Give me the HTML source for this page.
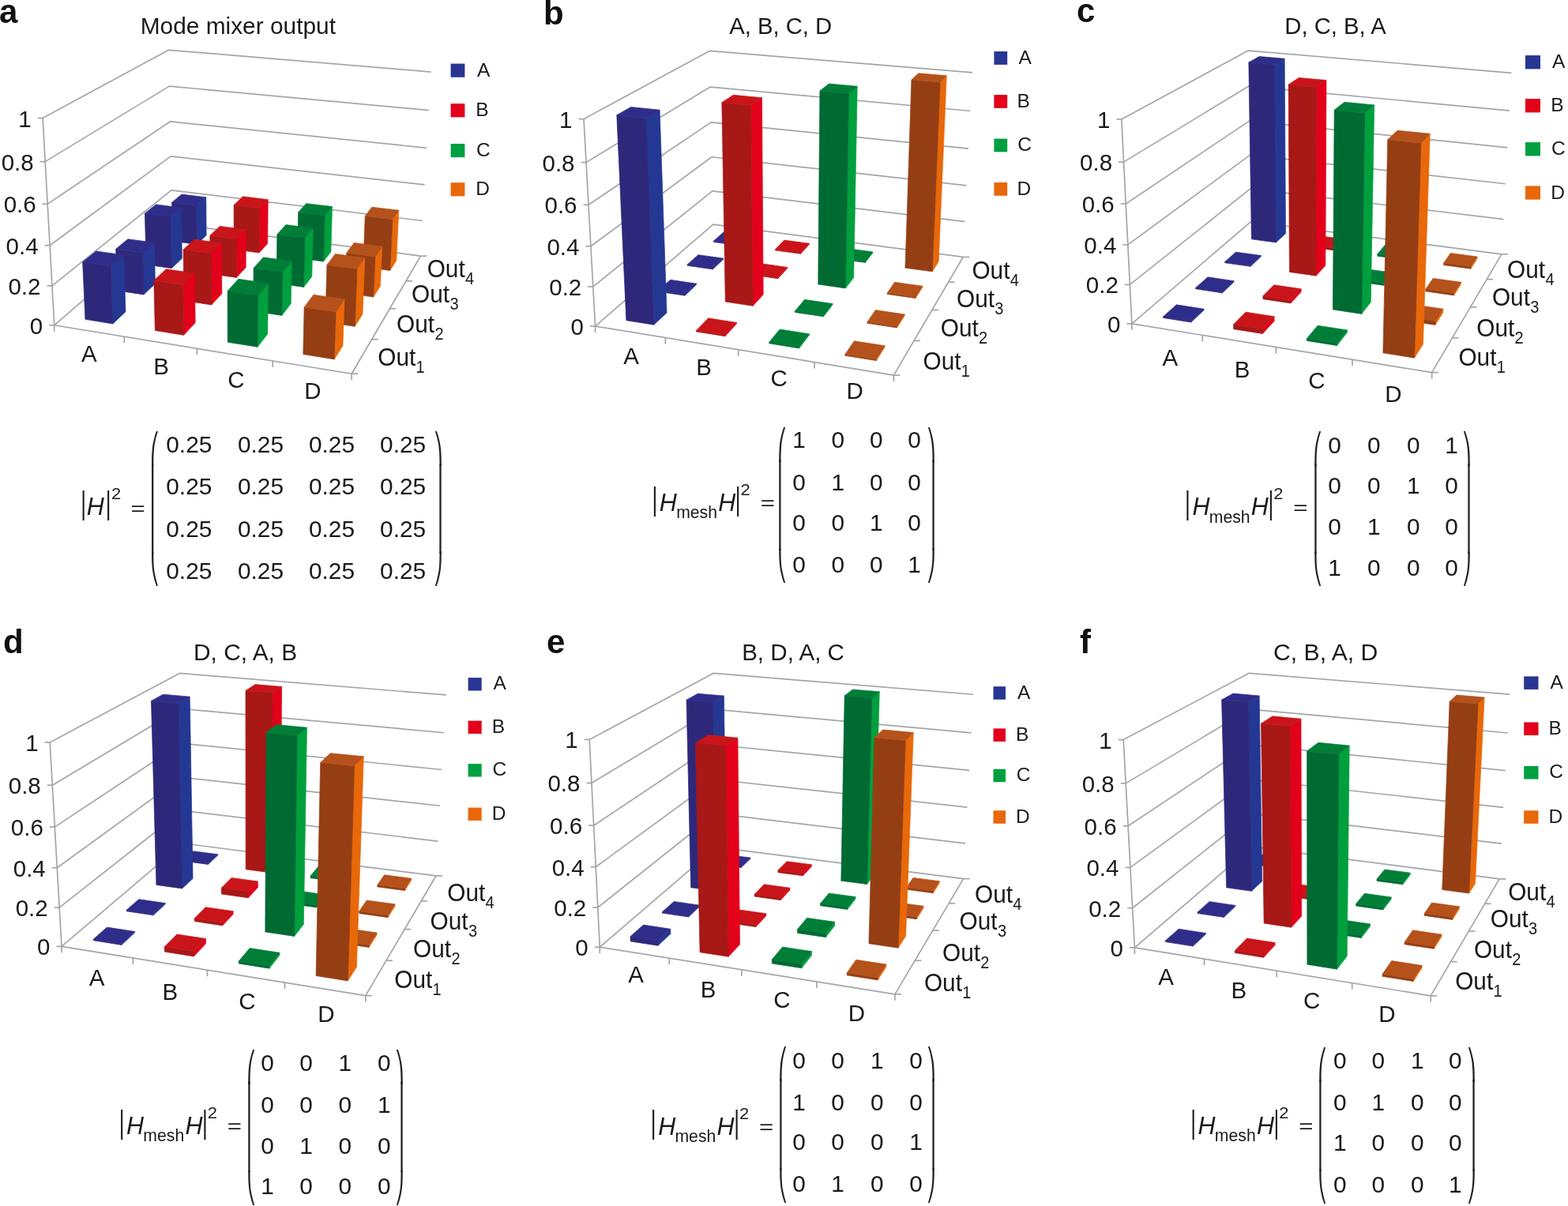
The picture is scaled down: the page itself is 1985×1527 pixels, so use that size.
<!DOCTYPE html>
<html><head><meta charset="utf-8"><title>Mode mixer figure</title><style>html,body{margin:0;padding:0;background:#fff}svg{display:block}</style></head><body>
<svg width="1985" height="1527" viewBox="0 0 1985 1527" font-family="'Liberation Sans', Arial, Helvetica, sans-serif" fill="#1a1a1a">
<rect width="1985" height="1527" fill="#fff"/>
<polyline points="68.71,411.78 217.67,283.09 532.49,324.15" fill="none" stroke="#a2a6a9" stroke-width="1.7" stroke-linejoin="round"/>
<polyline points="65.93,361.88 216.88,240.89 535.01,279.52" fill="none" stroke="#a2a6a9" stroke-width="1.7" stroke-linejoin="round"/>
<polyline points="63.09,310.76 216.08,197.85 537.58,233.92" fill="none" stroke="#a2a6a9" stroke-width="1.7" stroke-linejoin="round"/>
<polyline points="60.17,258.35 215.26,153.93 540.2,187.33" fill="none" stroke="#a2a6a9" stroke-width="1.7" stroke-linejoin="round"/>
<polyline points="57.18,204.62 214.42,109.11 542.88,139.71" fill="none" stroke="#a2a6a9" stroke-width="1.7" stroke-linejoin="round"/>
<polyline points="54.11,149.52 213.56,63.35 545.63,91.03" fill="none" stroke="#a2a6a9" stroke-width="1.7" stroke-linejoin="round"/>
<line x1="68.71" y1="411.78" x2="54.11" y2="149.52" stroke="#a2a6a9" stroke-width="1.7"/>
<polyline points="68.71,411.78 445.17,473.25 532.49,324.15" fill="none" stroke="#a2a6a9" stroke-width="1.7" stroke-linejoin="round"/>
<line x1="62.21" y1="411.78" x2="68.71" y2="411.78" stroke="#a2a6a9" stroke-width="1.7"/>
<line x1="59.43" y1="361.88" x2="65.93" y2="361.88" stroke="#a2a6a9" stroke-width="1.7"/>
<line x1="56.59" y1="310.76" x2="63.09" y2="310.76" stroke="#a2a6a9" stroke-width="1.7"/>
<line x1="53.67" y1="258.35" x2="60.17" y2="258.35" stroke="#a2a6a9" stroke-width="1.7"/>
<line x1="50.68" y1="204.62" x2="57.18" y2="204.62" stroke="#a2a6a9" stroke-width="1.7"/>
<line x1="47.61" y1="149.52" x2="54.11" y2="149.52" stroke="#a2a6a9" stroke-width="1.7"/>
<line x1="68.71" y1="411.78" x2="68.71" y2="419.78" stroke="#a2a6a9" stroke-width="1.7"/>
<line x1="445.17" y1="473.25" x2="453.17" y2="473.25" stroke="#a2a6a9" stroke-width="1.7"/>
<line x1="157.28" y1="426.24" x2="157.28" y2="434.24" stroke="#a2a6a9" stroke-width="1.7"/>
<line x1="470.64" y1="429.76" x2="478.64" y2="429.76" stroke="#a2a6a9" stroke-width="1.7"/>
<line x1="249.4" y1="441.28" x2="249.4" y2="449.28" stroke="#a2a6a9" stroke-width="1.7"/>
<line x1="493.43" y1="390.85" x2="501.43" y2="390.85" stroke="#a2a6a9" stroke-width="1.7"/>
<line x1="345.28" y1="456.94" x2="345.28" y2="464.94" stroke="#a2a6a9" stroke-width="1.7"/>
<line x1="513.94" y1="355.83" x2="521.94" y2="355.83" stroke="#a2a6a9" stroke-width="1.7"/>
<line x1="445.17" y1="473.25" x2="445.17" y2="481.25" stroke="#a2a6a9" stroke-width="1.7"/>
<line x1="532.49" y1="324.15" x2="540.49" y2="324.15" stroke="#a2a6a9" stroke-width="1.7"/>
<polygon points="249.2,309.44 261.16,298.12 260.76,249.78 248.64,260.32" fill="#243893" stroke="#243893" stroke-width="0.7"/>
<polygon points="218.4,305.27 249.2,309.44 248.64,260.32 217.49,256.43" fill="#2e287a" stroke="#2e287a" stroke-width="0.7"/>
<polygon points="217.49,256.43 248.64,260.32 260.76,249.78 230.1,246.03" fill="#2f2d8a" stroke="#2f2d8a" stroke-width="0.7"/>
<polygon points="328,320.09 338.7,308.38 339.26,252.7 328.42,263.5" fill="#e2001a" stroke="#e2001a" stroke-width="0.7"/>
<polygon points="296.16,315.78 328,320.09 328.42,263.5 296.15,259.52" fill="#a71816" stroke="#a71816" stroke-width="0.7"/>
<polygon points="296.15,259.52 328.42,263.5 339.26,252.7 307.52,248.87" fill="#c9151a" stroke="#c9151a" stroke-width="0.7"/>
<polygon points="409.49,331.1 418.83,318.99 420.51,261.61 411.07,272.77" fill="#009f3e" stroke="#009f3e" stroke-width="0.7"/>
<polygon points="376.56,326.65 409.49,331.1 411.07,272.77 377.67,268.66" fill="#006a33" stroke="#006a33" stroke-width="0.7"/>
<polygon points="377.67,268.66 411.07,272.77 420.51,261.61 387.68,257.65" fill="#007e38" stroke="#007e38" stroke-width="0.7"/>
<polygon points="217.23,339.67 230.38,327.23 229.36,262.98 215.98,274.34" fill="#243893" stroke="#243893" stroke-width="0.7"/>
<polygon points="185.16,335.1 217.23,339.67 215.98,274.34 183.42,270.16" fill="#2e287a" stroke="#2e287a" stroke-width="0.7"/>
<polygon points="183.42,270.16 215.98,274.34 229.36,262.98 197.34,258.95" fill="#2f2d8a" stroke="#2f2d8a" stroke-width="0.7"/>
<polygon points="493.82,342.5 501.7,329.97 504.83,266.25 496.89,277.71" fill="#e8680a" stroke="#e8680a" stroke-width="0.7"/>
<polygon points="459.74,337.9 493.82,342.5 496.89,277.71 462.26,273.49" fill="#953e14" stroke="#953e14" stroke-width="0.7"/>
<polygon points="462.26,273.49 496.89,277.71 504.83,266.25 470.81,262.19" fill="#b5511a" stroke="#b5511a" stroke-width="0.7"/>
<polygon points="299.38,351.39 311.16,338.5 311.33,290.66 299.41,302.73" fill="#e2001a" stroke="#e2001a" stroke-width="0.7"/>
<polygon points="266.18,346.65 299.38,351.39 299.41,302.73 265.82,298.28" fill="#a71816" stroke="#a71816" stroke-width="0.7"/>
<polygon points="265.82,298.28 299.41,302.73 311.33,290.66 278.31,286.38" fill="#c9151a" stroke="#c9151a" stroke-width="0.7"/>
<polygon points="384.49,363.52 394.79,350.17 396.23,288.94 385.81,301.23" fill="#009f3e" stroke="#009f3e" stroke-width="0.7"/>
<polygon points="350.08,358.62 384.49,363.52 385.81,301.23 350.88,296.7" fill="#006a33" stroke="#006a33" stroke-width="0.7"/>
<polygon points="350.88,296.7 385.81,301.23 396.23,288.94 361.93,284.59" fill="#007e38" stroke="#007e38" stroke-width="0.7"/>
<polygon points="181.97,373.02 196.5,359.28 195.24,307.26 180.51,320.09" fill="#243893" stroke="#243893" stroke-width="0.7"/>
<polygon points="148.52,367.97 181.97,373.02 180.51,320.09 146.64,315.37" fill="#2e287a" stroke="#2e287a" stroke-width="0.7"/>
<polygon points="146.64,315.37 180.51,320.09 195.24,307.26 161.96,302.72" fill="#2f2d8a" stroke="#2f2d8a" stroke-width="0.7"/>
<polygon points="472.7,376.1 481.41,362.26 483.65,312.01 474.88,324.98" fill="#e8680a" stroke="#e8680a" stroke-width="0.7"/>
<polygon points="437.03,371.02 472.7,376.1 474.88,324.98 438.76,320.2" fill="#953e14" stroke="#953e14" stroke-width="0.7"/>
<polygon points="438.76,320.2 474.88,324.98 483.65,312.01 448.19,307.42" fill="#b5511a" stroke="#b5511a" stroke-width="0.7"/>
<polygon points="267.77,385.96 280.81,371.71 280.56,307.78 267.32,320.9" fill="#e2001a" stroke="#e2001a" stroke-width="0.7"/>
<polygon points="233.07,380.73 267.77,385.96 267.32,320.9 232.08,316.07" fill="#a71816" stroke="#a71816" stroke-width="0.7"/>
<polygon points="232.08,316.07 267.32,320.9 280.56,307.78 245.95,303.14" fill="#c9151a" stroke="#c9151a" stroke-width="0.7"/>
<polygon points="356.82,399.4 368.23,384.6 369.17,330.72 357.62,344.55" fill="#009f3e" stroke="#009f3e" stroke-width="0.7"/>
<polygon points="320.8,393.96 356.82,399.4 357.62,344.55 321.12,339.46" fill="#006a33" stroke="#006a33" stroke-width="0.7"/>
<polygon points="321.12,339.46 357.62,344.55 369.17,330.72 333.34,325.84" fill="#007e38" stroke="#007e38" stroke-width="0.7"/>
<polygon points="142.91,409.97 159.03,394.72 156.63,322.94 140.16,336.88" fill="#243893" stroke="#243893" stroke-width="0.7"/>
<polygon points="107.96,404.37 142.91,409.97 140.16,336.88 104.62,331.75" fill="#2e287a" stroke="#2e287a" stroke-width="0.7"/>
<polygon points="104.62,331.75 140.16,336.88 156.63,322.94 121.72,318.02" fill="#2f2d8a" stroke="#2f2d8a" stroke-width="0.7"/>
<polygon points="449.29,413.35 458.96,397.98 461.78,326.51 452,340.58" fill="#e8680a" stroke="#e8680a" stroke-width="0.7"/>
<polygon points="411.88,407.71 449.29,413.35 452,340.58 413.91,335.4" fill="#953e14" stroke="#953e14" stroke-width="0.7"/>
<polygon points="413.91,335.4 452,340.58 461.78,326.51 424.42,321.55" fill="#b5511a" stroke="#b5511a" stroke-width="0.7"/>
<polygon points="232.68,424.35 247.17,408.5 246.41,345.96 231.68,360.66" fill="#e2001a" stroke="#e2001a" stroke-width="0.7"/>
<polygon points="196.35,418.53 232.68,424.35 231.68,360.66 194.8,355.26" fill="#a71816" stroke="#a71816" stroke-width="0.7"/>
<polygon points="194.8,355.26 231.68,360.66 246.41,345.96 210.22,340.79" fill="#c9151a" stroke="#c9151a" stroke-width="0.7"/>
<polygon points="326.03,439.31 338.75,422.82 339.41,358.75 326.5,374.04" fill="#009f3e" stroke="#009f3e" stroke-width="0.7"/>
<polygon points="288.25,433.26 326.03,439.31 326.5,374.04 288.11,368.42" fill="#006a33" stroke="#006a33" stroke-width="0.7"/>
<polygon points="288.11,368.42 326.5,374.04 339.41,358.75 301.77,353.37" fill="#007e38" stroke="#007e38" stroke-width="0.7"/>
<polygon points="423.19,454.88 433.98,437.71 435.97,378.85 425.06,394.9" fill="#e8680a" stroke="#e8680a" stroke-width="0.7"/>
<polygon points="383.86,448.58 423.19,454.88 425.06,394.9 385.13,389" fill="#953e14" stroke="#953e14" stroke-width="0.7"/>
<polygon points="385.13,389 425.06,394.9 435.97,378.85 396.85,373.21" fill="#b5511a" stroke="#b5511a" stroke-width="0.7"/>
<text x="54.21" y="422.78" font-size="29.5" text-anchor="end">0</text>
<text x="51.43" y="372.88" font-size="29.5" text-anchor="end">0.2</text>
<text x="48.59" y="321.76" font-size="29.5" text-anchor="end">0.4</text>
<text x="45.67" y="269.35" font-size="29.5" text-anchor="end">0.6</text>
<text x="42.68" y="215.62" font-size="29.5" text-anchor="end">0.8</text>
<text x="39.61" y="160.52" font-size="29.5" text-anchor="end">1</text>
<text transform="translate(112.95 458.2) scale(1 1.03)" font-size="29.5" text-anchor="middle">A</text>
<text transform="translate(204.1 473.8) scale(1 1.03)" font-size="29.5" text-anchor="middle">B</text>
<text transform="translate(298.8 491.3) scale(1 1.03)" font-size="29.5" text-anchor="middle">C</text>
<text transform="translate(395.9 505.3) scale(1 1.03)" font-size="29.5" text-anchor="middle">D</text>
<text transform="translate(478.3 462.9) scale(1 1.06)" font-size="29.8">Out<tspan font-size="20" dx="0.3" dy="8.5">1</tspan></text>
<text transform="translate(502.1 420.5) scale(1 1.06)" font-size="29.8">Out<tspan font-size="20" dx="0.3" dy="8.5">2</tspan></text>
<text transform="translate(521.1 383.2) scale(1 1.06)" font-size="29.8">Out<tspan font-size="20" dx="0.3" dy="8.5">3</tspan></text>
<text transform="translate(540.7 351.1) scale(1 1.06)" font-size="29.8">Out<tspan font-size="20" dx="0.3" dy="8.5">4</tspan></text>
<rect x="570.6" y="80.6" width="17.8" height="17.2" fill="#283593"/>
<text x="604.08" y="96.6" font-size="24.5">A</text>
<rect x="570.6" y="131.2" width="17.8" height="17.2" fill="#e2001a"/>
<text x="602.24" y="147.2" font-size="24.5">B</text>
<rect x="570.6" y="182" width="17.8" height="17.2" fill="#00a040"/>
<text x="602.97" y="198" font-size="24.5">C</text>
<rect x="570.6" y="231.2" width="17.8" height="17.2" fill="#e8680a"/>
<text x="602.24" y="247.2" font-size="24.5">D</text>
<text transform="translate(177.72 42.6) scale(1.03 1)" font-size="29">Mode mixer output</text>
<text x="-1" y="28.5" font-size="42" font-weight="bold" fill="#111">a</text>
<text transform="translate(239.3 572.9) scale(1.03 1)" font-size="29" text-anchor="middle">0.25</text>
<text transform="translate(330 572.9) scale(1.03 1)" font-size="29" text-anchor="middle">0.25</text>
<text transform="translate(420 572.9) scale(1.03 1)" font-size="29" text-anchor="middle">0.25</text>
<text transform="translate(510.1 572.9) scale(1.03 1)" font-size="29" text-anchor="middle">0.25</text>
<text transform="translate(239.3 625.8) scale(1.03 1)" font-size="29" text-anchor="middle">0.25</text>
<text transform="translate(330 625.8) scale(1.03 1)" font-size="29" text-anchor="middle">0.25</text>
<text transform="translate(420 625.8) scale(1.03 1)" font-size="29" text-anchor="middle">0.25</text>
<text transform="translate(510.1 625.8) scale(1.03 1)" font-size="29" text-anchor="middle">0.25</text>
<text transform="translate(239.3 680) scale(1.03 1)" font-size="29" text-anchor="middle">0.25</text>
<text transform="translate(330 680) scale(1.03 1)" font-size="29" text-anchor="middle">0.25</text>
<text transform="translate(420 680) scale(1.03 1)" font-size="29" text-anchor="middle">0.25</text>
<text transform="translate(510.1 680) scale(1.03 1)" font-size="29" text-anchor="middle">0.25</text>
<text transform="translate(239.3 732.9) scale(1.03 1)" font-size="29" text-anchor="middle">0.25</text>
<text transform="translate(330 732.9) scale(1.03 1)" font-size="29" text-anchor="middle">0.25</text>
<text transform="translate(420 732.9) scale(1.03 1)" font-size="29" text-anchor="middle">0.25</text>
<text transform="translate(510.1 732.9) scale(1.03 1)" font-size="29" text-anchor="middle">0.25</text>
<text transform="translate(189.96 581.34) scale(1 1.54)" font-size="24" font-family="'DejaVu Sans', sans-serif" fill="#222">⎛</text>
<text transform="translate(189.96 676.82) scale(1 3.96)" font-size="24" font-family="'DejaVu Sans', sans-serif" fill="#222">⎜</text>
<text transform="translate(189.96 732.73) scale(1 1.54)" font-size="24" font-family="'DejaVu Sans', sans-serif" fill="#222">⎝</text>
<text transform="translate(548.64 581.34) scale(1 1.54)" font-size="24" font-family="'DejaVu Sans', sans-serif" fill="#222">⎞</text>
<text transform="translate(548.64 676.82) scale(1 3.96)" font-size="24" font-family="'DejaVu Sans', sans-serif" fill="#222">⎟</text>
<text transform="translate(548.64 732.73) scale(1 1.54)" font-size="24" font-family="'DejaVu Sans', sans-serif" fill="#222">⎠</text>
<text transform="translate(102.25 650.91) scale(0.9 1.39)" font-size="29">|</text>
<text x="109.68" y="652.4" font-size="30.5" font-style="italic">H</text>
<text transform="translate(133.75 650.91) scale(0.9 1.39)" font-size="29">|</text>
<text transform="translate(141 631.7) scale(1.1 1)" font-size="20">2</text>
<text transform="translate(165.43 652.44) scale(1.08 0.84)" font-size="29">=</text>
<polyline points="753.53,413.04 902.8,284.17 1219.18,325.45" fill="none" stroke="#a2a6a9" stroke-width="1.7" stroke-linejoin="round"/>
<polyline points="750.76,362.96 901.92,241.88 1221.41,280.61" fill="none" stroke="#a2a6a9" stroke-width="1.7" stroke-linejoin="round"/>
<polyline points="747.92,311.73 901.03,198.78 1223.69,234.85" fill="none" stroke="#a2a6a9" stroke-width="1.7" stroke-linejoin="round"/>
<polyline points="745.01,259.3 900.11,154.86 1226.01,188.16" fill="none" stroke="#a2a6a9" stroke-width="1.7" stroke-linejoin="round"/>
<polyline points="742.03,205.63 899.18,110.1 1228.38,140.51" fill="none" stroke="#a2a6a9" stroke-width="1.7" stroke-linejoin="round"/>
<polyline points="738.99,150.67 898.24,64.46 1230.8,91.85" fill="none" stroke="#a2a6a9" stroke-width="1.7" stroke-linejoin="round"/>
<line x1="753.53" y1="413.04" x2="738.99" y2="150.67" stroke="#a2a6a9" stroke-width="1.7"/>
<polyline points="753.53,413.04 1131.41,475.07 1219.18,325.45" fill="none" stroke="#a2a6a9" stroke-width="1.7" stroke-linejoin="round"/>
<line x1="747.03" y1="413.04" x2="753.53" y2="413.04" stroke="#a2a6a9" stroke-width="1.7"/>
<line x1="744.26" y1="362.96" x2="750.76" y2="362.96" stroke="#a2a6a9" stroke-width="1.7"/>
<line x1="741.42" y1="311.73" x2="747.92" y2="311.73" stroke="#a2a6a9" stroke-width="1.7"/>
<line x1="738.51" y1="259.3" x2="745.01" y2="259.3" stroke="#a2a6a9" stroke-width="1.7"/>
<line x1="735.53" y1="205.63" x2="742.03" y2="205.63" stroke="#a2a6a9" stroke-width="1.7"/>
<line x1="732.49" y1="150.67" x2="738.99" y2="150.67" stroke="#a2a6a9" stroke-width="1.7"/>
<line x1="753.53" y1="413.04" x2="753.53" y2="421.04" stroke="#a2a6a9" stroke-width="1.7"/>
<line x1="1131.41" y1="475.07" x2="1139.41" y2="475.07" stroke="#a2a6a9" stroke-width="1.7"/>
<line x1="842.3" y1="427.61" x2="842.3" y2="435.61" stroke="#a2a6a9" stroke-width="1.7"/>
<line x1="1157" y1="431.44" x2="1165" y2="431.44" stroke="#a2a6a9" stroke-width="1.7"/>
<line x1="934.71" y1="442.78" x2="934.71" y2="450.78" stroke="#a2a6a9" stroke-width="1.7"/>
<line x1="1179.91" y1="392.4" x2="1187.91" y2="392.4" stroke="#a2a6a9" stroke-width="1.7"/>
<line x1="1031" y1="458.58" x2="1031" y2="466.58" stroke="#a2a6a9" stroke-width="1.7"/>
<line x1="1200.52" y1="357.26" x2="1208.52" y2="357.26" stroke="#a2a6a9" stroke-width="1.7"/>
<line x1="1131.41" y1="475.07" x2="1131.41" y2="483.07" stroke="#a2a6a9" stroke-width="1.7"/>
<line x1="1219.18" y1="325.45" x2="1227.18" y2="325.45" stroke="#a2a6a9" stroke-width="1.7"/>
<polygon points="934.44,310.59 946.45,299.24 946.43,297.96 934.42,309.28" fill="#243893" stroke="#243893" stroke-width="0.7"/>
<polygon points="903.54,306.41 934.44,310.59 934.42,309.28 903.51,305.11" fill="#2e287a" stroke="#2e287a" stroke-width="0.7"/>
<polygon points="903.51,305.11 934.42,309.28 946.43,297.96 916,293.93" fill="#2f2d8a" stroke="#2f2d8a" stroke-width="0.7"/>
<polygon points="1013.56,321.3 1024.3,309.56 1024.31,308.26 1013.56,319.97" fill="#e2001a" stroke="#e2001a" stroke-width="0.7"/>
<polygon points="981.59,316.97 1013.56,321.3 1013.56,319.97 981.58,315.65" fill="#a71816" stroke="#a71816" stroke-width="0.7"/>
<polygon points="981.58,315.65 1013.56,319.97 1024.31,308.26 992.84,304.1" fill="#c9151a" stroke="#c9151a" stroke-width="0.7"/>
<polygon points="1095.45,332.38 1104.84,320.24 1104.87,318.91 1095.48,331.04" fill="#009f3e" stroke="#009f3e" stroke-width="0.7"/>
<polygon points="1062.35,327.9 1095.45,332.38 1095.48,331.04 1062.37,326.57" fill="#006a33" stroke="#006a33" stroke-width="0.7"/>
<polygon points="1062.37,326.57 1095.48,331.04 1104.87,318.91 1072.31,314.61" fill="#007e38" stroke="#007e38" stroke-width="0.7"/>
<polygon points="902.38,340.89 915.57,328.42 915.55,327.08 902.35,339.53" fill="#243893" stroke="#243893" stroke-width="0.7"/>
<polygon points="870.21,336.29 902.38,340.89 902.35,339.53 870.17,334.94" fill="#2e287a" stroke="#2e287a" stroke-width="0.7"/>
<polygon points="870.17,334.94 902.35,339.53 915.55,327.08 883.89,322.67" fill="#2f2d8a" stroke="#2f2d8a" stroke-width="0.7"/>
<polygon points="984.84,352.67 996.66,339.76 996.66,338.4 984.84,351.29" fill="#e2001a" stroke="#e2001a" stroke-width="0.7"/>
<polygon points="951.5,347.91 984.84,352.67 984.84,351.29 951.49,346.54" fill="#a71816" stroke="#a71816" stroke-width="0.7"/>
<polygon points="951.49,346.54 984.84,351.29 996.66,338.4 963.87,333.82" fill="#c9151a" stroke="#c9151a" stroke-width="0.7"/>
<polygon points="1180.27,343.86 1188.19,331.28 1198.29,95.74 1190.16,104.14" fill="#e8680a" stroke="#e8680a" stroke-width="0.7"/>
<polygon points="1145.98,339.22 1180.27,343.86 1190.16,104.14 1153.96,101.04" fill="#953e14" stroke="#953e14" stroke-width="0.7"/>
<polygon points="1153.96,101.04 1190.16,104.14 1198.29,95.74 1162.77,92.77" fill="#b5511a" stroke="#b5511a" stroke-width="0.7"/>
<polygon points="867.04,374.28 881.6,360.52 881.56,359.13 866.99,372.86" fill="#243893" stroke="#243893" stroke-width="0.7"/>
<polygon points="833.49,369.2 867.04,374.28 866.99,372.86 833.44,367.79" fill="#2e287a" stroke="#2e287a" stroke-width="0.7"/>
<polygon points="833.44,367.79 866.99,372.86 881.56,359.13 848.57,354.26" fill="#2f2d8a" stroke="#2f2d8a" stroke-width="0.7"/>
<polygon points="1159.05,377.58 1167.79,363.68 1167.85,362.28 1159.1,376.15" fill="#e8680a" stroke="#e8680a" stroke-width="0.7"/>
<polygon points="1123.17,372.45 1159.05,377.58 1159.1,376.15 1123.21,371.03" fill="#953e14" stroke="#953e14" stroke-width="0.7"/>
<polygon points="1123.21,371.03 1159.1,376.15 1167.85,362.28 1132.61,357.37" fill="#b5511a" stroke="#b5511a" stroke-width="0.7"/>
<polygon points="1070.34,364.9 1080.68,351.5 1085.26,109.26 1074.44,118.23" fill="#009f3e" stroke="#009f3e" stroke-width="0.7"/>
<polygon points="1035.76,359.95 1070.34,364.9 1074.44,118.23 1037.93,114.92" fill="#006a33" stroke="#006a33" stroke-width="0.7"/>
<polygon points="1037.93,114.92 1074.44,118.23 1085.26,109.26 1049.42,106.09" fill="#007e38" stroke="#007e38" stroke-width="0.7"/>
<polygon points="1042.55,400.87 1054.01,386.03 1054.03,384.59 1042.57,399.4" fill="#009f3e" stroke="#009f3e" stroke-width="0.7"/>
<polygon points="1006.37,395.39 1042.55,400.87 1042.57,399.4 1006.37,393.93" fill="#006a33" stroke="#006a33" stroke-width="0.7"/>
<polygon points="1006.37,393.93 1042.57,399.4 1054.03,384.59 1018.5,379.34" fill="#007e38" stroke="#007e38" stroke-width="0.7"/>
<polygon points="953.12,387.32 966.2,373.04 964.49,123.7 950.62,133.31" fill="#e2001a" stroke="#e2001a" stroke-width="0.7"/>
<polygon points="918.3,382.05 953.12,387.32 950.62,133.31 913.82,129.76" fill="#a71816" stroke="#a71816" stroke-width="0.7"/>
<polygon points="913.82,129.76 950.62,133.31 964.49,123.7 928.37,120.31" fill="#c9151a" stroke="#c9151a" stroke-width="0.7"/>
<polygon points="1135.52,414.95 1145.23,399.52 1145.28,398.06 1135.57,413.46" fill="#e8680a" stroke="#e8680a" stroke-width="0.7"/>
<polygon points="1097.9,409.25 1135.52,414.95 1135.57,413.46 1097.93,407.77" fill="#953e14" stroke="#953e14" stroke-width="0.7"/>
<polygon points="1097.93,407.77 1135.57,413.46 1145.28,398.06 1108.36,392.61" fill="#b5511a" stroke="#b5511a" stroke-width="0.7"/>
<polygon points="917.92,425.78 932.45,409.9 932.43,408.42 917.89,424.28" fill="#e2001a" stroke="#e2001a" stroke-width="0.7"/>
<polygon points="881.47,419.91 917.92,425.78 917.89,424.28 881.43,418.42" fill="#a71816" stroke="#a71816" stroke-width="0.7"/>
<polygon points="881.43,418.42 917.89,424.28 932.43,408.42 896.64,402.81" fill="#c9151a" stroke="#c9151a" stroke-width="0.7"/>
<polygon points="827.88,411.28 844.04,396.02 835.14,139.17 817.81,149.48" fill="#243893" stroke="#243893" stroke-width="0.7"/>
<polygon points="792.85,405.64 827.88,411.28 817.81,149.48 780.79,145.67" fill="#2e287a" stroke="#2e287a" stroke-width="0.7"/>
<polygon points="780.79,145.67 817.81,149.48 835.14,139.17 798.8,135.53" fill="#2f2d8a" stroke="#2f2d8a" stroke-width="0.7"/>
<polygon points="1011.65,440.88 1024.42,424.35 1024.43,422.84 1011.65,439.34" fill="#009f3e" stroke="#009f3e" stroke-width="0.7"/>
<polygon points="973.7,434.77 1011.65,440.88 1011.65,439.34 973.69,433.24" fill="#006a33" stroke="#006a33" stroke-width="0.7"/>
<polygon points="973.69,433.24 1011.65,439.34 1024.43,422.84 987.19,417" fill="#007e38" stroke="#007e38" stroke-width="0.7"/>
<polygon points="1109.3,456.6 1120.14,439.38 1120.19,437.85 1109.34,455.04" fill="#e8680a" stroke="#e8680a" stroke-width="0.7"/>
<polygon points="1069.75,450.23 1109.3,456.6 1109.34,455.04 1069.78,448.69" fill="#953e14" stroke="#953e14" stroke-width="0.7"/>
<polygon points="1069.78,448.69 1109.34,455.04 1120.19,437.85 1081.42,431.77" fill="#b5511a" stroke="#b5511a" stroke-width="0.7"/>
<text x="739.03" y="424.04" font-size="29.5" text-anchor="end">0</text>
<text x="736.26" y="373.96" font-size="29.5" text-anchor="end">0.2</text>
<text x="733.42" y="322.73" font-size="29.5" text-anchor="end">0.4</text>
<text x="730.51" y="270.3" font-size="29.5" text-anchor="end">0.6</text>
<text x="727.53" y="216.63" font-size="29.5" text-anchor="end">0.8</text>
<text x="724.49" y="161.67" font-size="29.5" text-anchor="end">1</text>
<text transform="translate(799.2 460.5) scale(1 1.03)" font-size="29.5" text-anchor="middle">A</text>
<text transform="translate(891.1 475.4) scale(1 1.03)" font-size="29.5" text-anchor="middle">B</text>
<text transform="translate(986.2 488.8) scale(1 1.03)" font-size="29.5" text-anchor="middle">C</text>
<text transform="translate(1082.1 505.3) scale(1 1.03)" font-size="29.5" text-anchor="middle">D</text>
<text transform="translate(1168.5 467.8) scale(1 1.06)" font-size="29.8">Out<tspan font-size="20" dx="0.3" dy="8.5">1</tspan></text>
<text transform="translate(1190.8 426) scale(1 1.06)" font-size="29.8">Out<tspan font-size="20" dx="0.3" dy="8.5">2</tspan></text>
<text transform="translate(1211 389.3) scale(1 1.06)" font-size="29.8">Out<tspan font-size="20" dx="0.3" dy="8.5">3</tspan></text>
<text transform="translate(1230.4 352.5) scale(1 1.06)" font-size="29.8">Out<tspan font-size="20" dx="0.3" dy="8.5">4</tspan></text>
<rect x="1258.4" y="65.1" width="16.8" height="16.8" fill="#283593"/>
<text x="1289.38" y="80.7" font-size="24.5">A</text>
<rect x="1258.4" y="120.1" width="16.8" height="16.8" fill="#e2001a"/>
<text x="1287.54" y="135.7" font-size="24.5">B</text>
<rect x="1258.4" y="175.6" width="16.8" height="16.8" fill="#00a040"/>
<text x="1288.28" y="191.2" font-size="24.5">C</text>
<rect x="1258.4" y="231" width="16.8" height="16.8" fill="#e8680a"/>
<text x="1287.54" y="246.6" font-size="24.5">D</text>
<text transform="translate(923.15 43) scale(1.01 1)" font-size="29">A, B, C, D</text>
<text x="688.1" y="30.5" font-size="42" font-weight="bold" fill="#111">b</text>
<text transform="translate(1011.5 567.4) scale(1.03 1)" font-size="29" text-anchor="middle">1</text>
<text transform="translate(1060.9 567.4) scale(1.03 1)" font-size="29" text-anchor="middle">0</text>
<text transform="translate(1109.2 567.4) scale(1.03 1)" font-size="29" text-anchor="middle">0</text>
<text transform="translate(1157.6 567.4) scale(1.03 1)" font-size="29" text-anchor="middle">0</text>
<text transform="translate(1011.5 620.5) scale(1.03 1)" font-size="29" text-anchor="middle">0</text>
<text transform="translate(1060.9 620.5) scale(1.03 1)" font-size="29" text-anchor="middle">1</text>
<text transform="translate(1109.2 620.5) scale(1.03 1)" font-size="29" text-anchor="middle">0</text>
<text transform="translate(1157.6 620.5) scale(1.03 1)" font-size="29" text-anchor="middle">0</text>
<text transform="translate(1011.5 672.2) scale(1.03 1)" font-size="29" text-anchor="middle">0</text>
<text transform="translate(1060.9 672.2) scale(1.03 1)" font-size="29" text-anchor="middle">0</text>
<text transform="translate(1109.2 672.2) scale(1.03 1)" font-size="29" text-anchor="middle">1</text>
<text transform="translate(1157.6 672.2) scale(1.03 1)" font-size="29" text-anchor="middle">0</text>
<text transform="translate(1011.5 725) scale(1.03 1)" font-size="29" text-anchor="middle">0</text>
<text transform="translate(1060.9 725) scale(1.03 1)" font-size="29" text-anchor="middle">0</text>
<text transform="translate(1109.2 725) scale(1.03 1)" font-size="29" text-anchor="middle">0</text>
<text transform="translate(1157.6 725) scale(1.03 1)" font-size="29" text-anchor="middle">1</text>
<text transform="translate(984.26 576.04) scale(1 1.54)" font-size="24" font-family="'DejaVu Sans', sans-serif" fill="#222">⎛</text>
<text transform="translate(984.26 672.55) scale(1 4.01)" font-size="24" font-family="'DejaVu Sans', sans-serif" fill="#222">⎜</text>
<text transform="translate(984.26 728.73) scale(1 1.54)" font-size="24" font-family="'DejaVu Sans', sans-serif" fill="#222">⎝</text>
<text transform="translate(1172.84 576.04) scale(1 1.54)" font-size="24" font-family="'DejaVu Sans', sans-serif" fill="#222">⎞</text>
<text transform="translate(1172.84 672.55) scale(1 4.01)" font-size="24" font-family="'DejaVu Sans', sans-serif" fill="#222">⎟</text>
<text transform="translate(1172.84 728.73) scale(1 1.54)" font-size="24" font-family="'DejaVu Sans', sans-serif" fill="#222">⎠</text>
<text transform="translate(825.45 645.63) scale(0.9 1.39)" font-size="29">|</text>
<text x="834.84" y="647" font-size="30.5" font-style="italic">H</text>
<text x="856.17" y="656.1" font-size="21.2">mesh</text>
<text x="909.18" y="647" font-size="30.5" font-style="italic">H</text>
<text transform="translate(930.85 645.63) scale(0.9 1.39)" font-size="29">|</text>
<text transform="translate(937.6 627) scale(1.1 1)" font-size="20">2</text>
<text transform="translate(962.63 645.34) scale(1.08 0.84)" font-size="29">=</text>
<polyline points="1432.87,409.87 1583.69,280.53 1900.89,321.81" fill="none" stroke="#a2a6a9" stroke-width="1.7" stroke-linejoin="round"/>
<polyline points="1430.38,360.41 1583.03,238.83 1903.29,277.71" fill="none" stroke="#a2a6a9" stroke-width="1.7" stroke-linejoin="round"/>
<polyline points="1427.83,309.82 1582.35,196.37 1905.74,232.73" fill="none" stroke="#a2a6a9" stroke-width="1.7" stroke-linejoin="round"/>
<polyline points="1425.22,258.08 1581.67,153.11 1908.23,186.86" fill="none" stroke="#a2a6a9" stroke-width="1.7" stroke-linejoin="round"/>
<polyline points="1422.55,205.14 1580.97,109.03 1910.78,140.06" fill="none" stroke="#a2a6a9" stroke-width="1.7" stroke-linejoin="round"/>
<polyline points="1419.81,150.96 1580.26,64.12 1913.37,92.3" fill="none" stroke="#a2a6a9" stroke-width="1.7" stroke-linejoin="round"/>
<line x1="1432.87" y1="409.87" x2="1419.81" y2="150.96" stroke="#a2a6a9" stroke-width="1.7"/>
<polyline points="1432.87,409.87 1812.69,471.63 1900.89,321.81" fill="none" stroke="#a2a6a9" stroke-width="1.7" stroke-linejoin="round"/>
<line x1="1426.37" y1="409.87" x2="1432.87" y2="409.87" stroke="#a2a6a9" stroke-width="1.7"/>
<line x1="1423.88" y1="360.41" x2="1430.38" y2="360.41" stroke="#a2a6a9" stroke-width="1.7"/>
<line x1="1421.33" y1="309.82" x2="1427.83" y2="309.82" stroke="#a2a6a9" stroke-width="1.7"/>
<line x1="1418.72" y1="258.08" x2="1425.22" y2="258.08" stroke="#a2a6a9" stroke-width="1.7"/>
<line x1="1416.05" y1="205.14" x2="1422.55" y2="205.14" stroke="#a2a6a9" stroke-width="1.7"/>
<line x1="1413.31" y1="150.96" x2="1419.81" y2="150.96" stroke="#a2a6a9" stroke-width="1.7"/>
<line x1="1432.87" y1="409.87" x2="1432.87" y2="417.87" stroke="#a2a6a9" stroke-width="1.7"/>
<line x1="1812.69" y1="471.63" x2="1820.69" y2="471.63" stroke="#a2a6a9" stroke-width="1.7"/>
<line x1="1522.28" y1="424.41" x2="1522.28" y2="432.41" stroke="#a2a6a9" stroke-width="1.7"/>
<line x1="1838.43" y1="427.9" x2="1846.43" y2="427.9" stroke="#a2a6a9" stroke-width="1.7"/>
<line x1="1615.24" y1="439.52" x2="1615.24" y2="447.52" stroke="#a2a6a9" stroke-width="1.7"/>
<line x1="1861.46" y1="388.79" x2="1869.46" y2="388.79" stroke="#a2a6a9" stroke-width="1.7"/>
<line x1="1711.96" y1="455.25" x2="1711.96" y2="463.25" stroke="#a2a6a9" stroke-width="1.7"/>
<line x1="1882.16" y1="353.62" x2="1890.16" y2="353.62" stroke="#a2a6a9" stroke-width="1.7"/>
<line x1="1812.69" y1="471.63" x2="1812.69" y2="479.63" stroke="#a2a6a9" stroke-width="1.7"/>
<line x1="1900.89" y1="321.81" x2="1908.89" y2="321.81" stroke="#a2a6a9" stroke-width="1.7"/>
<polygon points="1694.84,317.71 1705.66,305.95 1705.69,303.39 1694.87,315.1" fill="#e2001a" stroke="#e2001a" stroke-width="0.7"/>
<polygon points="1662.75,313.38 1694.84,317.71 1694.87,315.1 1662.76,310.78" fill="#a71816" stroke="#a71816" stroke-width="0.7"/>
<polygon points="1662.76,310.78 1694.87,315.1 1705.69,303.39 1674.1,299.23" fill="#c9151a" stroke="#c9151a" stroke-width="0.7"/>
<polygon points="1615.41,307 1627.51,295.63 1626.13,74.27 1613.4,81.85" fill="#243893" stroke="#243893" stroke-width="0.7"/>
<polygon points="1584.35,302.81 1615.41,307 1613.4,81.85 1580.82,79" fill="#2e287a" stroke="#2e287a" stroke-width="0.7"/>
<polygon points="1580.82,79 1613.4,81.85 1626.13,74.27 1594.09,71.52" fill="#2f2d8a" stroke="#2f2d8a" stroke-width="0.7"/>
<polygon points="1776.97,328.78 1786.4,316.62 1786.48,314.02 1777.04,326.13" fill="#009f3e" stroke="#009f3e" stroke-width="0.7"/>
<polygon points="1743.79,324.31 1776.97,328.78 1777.04,326.13 1743.84,321.67" fill="#006a33" stroke="#006a33" stroke-width="0.7"/>
<polygon points="1743.84,321.67 1777.04,326.13 1786.48,314.02 1753.84,309.72" fill="#007e38" stroke="#007e38" stroke-width="0.7"/>
<polygon points="1583.07,337.37 1596.38,324.87 1596.36,323.55 1583.05,336.03" fill="#243893" stroke="#243893" stroke-width="0.7"/>
<polygon points="1550.72,332.77 1583.07,337.37 1583.05,336.03 1550.69,331.43" fill="#2e287a" stroke="#2e287a" stroke-width="0.7"/>
<polygon points="1550.69,331.43 1583.05,336.03 1596.36,323.55 1564.53,319.13" fill="#2f2d8a" stroke="#2f2d8a" stroke-width="0.7"/>
<polygon points="1861.92,340.24 1869.87,327.65 1870,325.01 1862.04,337.55" fill="#e8680a" stroke="#e8680a" stroke-width="0.7"/>
<polygon points="1827.59,335.61 1861.92,340.24 1862.04,337.55 1827.69,332.93" fill="#953e14" stroke="#953e14" stroke-width="0.7"/>
<polygon points="1827.69,332.93 1862.04,337.55 1870,325.01 1836.25,320.57" fill="#b5511a" stroke="#b5511a" stroke-width="0.7"/>
<polygon points="1751.7,361.34 1762.11,347.93 1762.18,345.21 1751.76,358.58" fill="#009f3e" stroke="#009f3e" stroke-width="0.7"/>
<polygon points="1717.02,356.41 1751.7,361.34 1751.76,358.58 1717.06,353.66" fill="#006a33" stroke="#006a33" stroke-width="0.7"/>
<polygon points="1717.06,353.66 1751.76,358.58 1762.18,345.21 1728.09,340.49" fill="#007e38" stroke="#007e38" stroke-width="0.7"/>
<polygon points="1665.91,349.14 1677.83,336.2 1678.98,101.56 1666.45,110.25" fill="#e2001a" stroke="#e2001a" stroke-width="0.7"/>
<polygon points="1632.43,344.38 1665.91,349.14 1666.45,110.25 1631.19,106.98" fill="#a71816" stroke="#a71816" stroke-width="0.7"/>
<polygon points="1631.19,106.98 1666.45,110.25 1678.98,101.56 1644.35,98.42" fill="#c9151a" stroke="#c9151a" stroke-width="0.7"/>
<polygon points="1547.39,370.88 1562.09,357.07 1562.06,355.69 1547.35,369.48" fill="#243893" stroke="#243893" stroke-width="0.7"/>
<polygon points="1513.64,365.8 1547.39,370.88 1547.35,369.48 1513.59,364.41" fill="#2e287a" stroke="#2e287a" stroke-width="0.7"/>
<polygon points="1513.59,364.41 1547.35,369.48 1562.06,355.69 1528.88,350.82" fill="#2f2d8a" stroke="#2f2d8a" stroke-width="0.7"/>
<polygon points="1840.6,373.98 1849.38,360.07 1849.5,357.31 1840.71,371.17" fill="#e8680a" stroke="#e8680a" stroke-width="0.7"/>
<polygon points="1804.65,368.87 1840.6,373.98 1840.71,371.17 1804.75,366.08" fill="#953e14" stroke="#953e14" stroke-width="0.7"/>
<polygon points="1804.75,366.08 1840.71,371.17 1849.5,357.31 1814.2,352.42" fill="#b5511a" stroke="#b5511a" stroke-width="0.7"/>
<polygon points="1633.94,383.89 1647.12,369.56 1647.12,365.83 1633.92,380.1" fill="#e2001a" stroke="#e2001a" stroke-width="0.7"/>
<polygon points="1598.94,378.63 1633.94,383.89 1633.92,380.1 1598.89,374.86" fill="#a71816" stroke="#a71816" stroke-width="0.7"/>
<polygon points="1598.89,374.86 1633.92,380.1 1647.12,365.83 1612.71,360.8" fill="#c9151a" stroke="#c9151a" stroke-width="0.7"/>
<polygon points="1507.82,408.04 1524.15,392.7 1524.11,391.26 1507.77,406.57" fill="#243893" stroke="#243893" stroke-width="0.7"/>
<polygon points="1472.54,402.41 1507.82,408.04 1507.77,406.57 1472.48,400.95" fill="#2e287a" stroke="#2e287a" stroke-width="0.7"/>
<polygon points="1472.48,400.95 1507.77,406.57 1524.11,391.26 1489.45,385.87" fill="#2f2d8a" stroke="#2f2d8a" stroke-width="0.7"/>
<polygon points="1816.94,411.4 1826.71,395.95 1826.89,391.15 1817.12,406.51" fill="#e8680a" stroke="#e8680a" stroke-width="0.7"/>
<polygon points="1779.23,405.73 1816.94,411.4 1817.12,406.51 1779.37,400.87" fill="#953e14" stroke="#953e14" stroke-width="0.7"/>
<polygon points="1779.37,400.87 1817.12,406.51 1826.89,391.15 1789.87,385.74" fill="#b5511a" stroke="#b5511a" stroke-width="0.7"/>
<polygon points="1723.73,397.39 1735.27,382.52 1739.73,132.93 1727.63,142.99" fill="#009f3e" stroke="#009f3e" stroke-width="0.7"/>
<polygon points="1687.41,391.93 1723.73,397.39 1727.63,142.99 1689.21,139.22" fill="#006a33" stroke="#006a33" stroke-width="0.7"/>
<polygon points="1689.21,139.22 1727.63,142.99 1739.73,132.93 1702.07,129.31" fill="#007e38" stroke="#007e38" stroke-width="0.7"/>
<polygon points="1598.41,422.49 1613.08,406.55 1613.03,400.7 1598.33,416.54" fill="#e2001a" stroke="#e2001a" stroke-width="0.7"/>
<polygon points="1561.75,416.65 1598.41,422.49 1598.33,416.54 1561.63,410.73" fill="#a71816" stroke="#a71816" stroke-width="0.7"/>
<polygon points="1561.63,410.73 1598.33,416.54 1613.03,400.7 1577.01,395.13" fill="#c9151a" stroke="#c9151a" stroke-width="0.7"/>
<polygon points="1692.58,437.52 1705.45,420.94 1705.49,417.97 1692.61,434.5" fill="#009f3e" stroke="#009f3e" stroke-width="0.7"/>
<polygon points="1654.47,431.44 1692.58,437.52 1692.61,434.5 1654.47,428.44" fill="#006a33" stroke="#006a33" stroke-width="0.7"/>
<polygon points="1654.47,428.44 1692.61,434.5 1705.49,417.97 1668.09,412.16" fill="#007e38" stroke="#007e38" stroke-width="0.7"/>
<polygon points="1790.56,453.16 1801.47,435.89 1810.31,169.36 1798.93,181.16" fill="#e8680a" stroke="#e8680a" stroke-width="0.7"/>
<polygon points="1750.9,446.83 1790.56,453.16 1798.93,181.16 1756.76,176.75" fill="#953e14" stroke="#953e14" stroke-width="0.7"/>
<polygon points="1756.76,176.75 1798.93,181.16 1810.31,169.36 1769.04,165.16" fill="#b5511a" stroke="#b5511a" stroke-width="0.7"/>
<text x="1418.37" y="420.87" font-size="29.5" text-anchor="end">0</text>
<text x="1415.88" y="371.41" font-size="29.5" text-anchor="end">0.2</text>
<text x="1413.33" y="320.82" font-size="29.5" text-anchor="end">0.4</text>
<text x="1410.72" y="269.08" font-size="29.5" text-anchor="end">0.6</text>
<text x="1408.05" y="216.14" font-size="29.5" text-anchor="end">0.8</text>
<text x="1405.31" y="161.96" font-size="29.5" text-anchor="end">1</text>
<text transform="translate(1481.4 463.4) scale(1 1.03)" font-size="29.5" text-anchor="middle">A</text>
<text transform="translate(1572.5 477.9) scale(1 1.03)" font-size="29.5" text-anchor="middle">B</text>
<text transform="translate(1666.8 492) scale(1 1.03)" font-size="29.5" text-anchor="middle">C</text>
<text transform="translate(1763.9 508.5) scale(1 1.03)" font-size="29.5" text-anchor="middle">D</text>
<text transform="translate(1846.4 462.5) scale(1 1.06)" font-size="29.8">Out<tspan font-size="20" dx="0.3" dy="8.5">1</tspan></text>
<text transform="translate(1869.3 425.9) scale(1 1.06)" font-size="29.8">Out<tspan font-size="20" dx="0.3" dy="8.5">2</tspan></text>
<text transform="translate(1888.9 386.6) scale(1 1.06)" font-size="29.8">Out<tspan font-size="20" dx="0.3" dy="8.5">3</tspan></text>
<text transform="translate(1908.1 351.9) scale(1 1.06)" font-size="29.8">Out<tspan font-size="20" dx="0.3" dy="8.5">4</tspan></text>
<rect x="1931" y="70.1" width="19" height="17.3" fill="#283593"/>
<text x="1964.98" y="86.2" font-size="24.5">A</text>
<rect x="1931" y="125.1" width="19" height="17.3" fill="#e2001a"/>
<text x="1963.14" y="141.2" font-size="24.5">B</text>
<rect x="1931" y="180.1" width="19" height="17.3" fill="#00a040"/>
<text x="1963.88" y="196.2" font-size="24.5">C</text>
<rect x="1931" y="235.4" width="19" height="17.3" fill="#e8680a"/>
<text x="1963.14" y="251.5" font-size="24.5">D</text>
<text transform="translate(1626.25 43) scale(1.01 1)" font-size="29">D, C, B, A</text>
<text x="1363.1" y="28.2" font-size="42" font-weight="bold" fill="#111">c</text>
<text transform="translate(1689.5 573.7) scale(1.03 1)" font-size="29" text-anchor="middle">0</text>
<text transform="translate(1739.3 573.7) scale(1.03 1)" font-size="29" text-anchor="middle">0</text>
<text transform="translate(1789.2 573.7) scale(1.03 1)" font-size="29" text-anchor="middle">0</text>
<text transform="translate(1837.6 573.7) scale(1.03 1)" font-size="29" text-anchor="middle">1</text>
<text transform="translate(1689.5 624.8) scale(1.03 1)" font-size="29" text-anchor="middle">0</text>
<text transform="translate(1739.3 624.8) scale(1.03 1)" font-size="29" text-anchor="middle">0</text>
<text transform="translate(1789.2 624.8) scale(1.03 1)" font-size="29" text-anchor="middle">1</text>
<text transform="translate(1837.6 624.8) scale(1.03 1)" font-size="29" text-anchor="middle">0</text>
<text transform="translate(1689.5 677.2) scale(1.03 1)" font-size="29" text-anchor="middle">0</text>
<text transform="translate(1739.3 677.2) scale(1.03 1)" font-size="29" text-anchor="middle">1</text>
<text transform="translate(1789.2 677.2) scale(1.03 1)" font-size="29" text-anchor="middle">0</text>
<text transform="translate(1837.6 677.2) scale(1.03 1)" font-size="29" text-anchor="middle">0</text>
<text transform="translate(1689.5 729) scale(1.03 1)" font-size="29" text-anchor="middle">1</text>
<text transform="translate(1739.3 729) scale(1.03 1)" font-size="29" text-anchor="middle">0</text>
<text transform="translate(1789.2 729) scale(1.03 1)" font-size="29" text-anchor="middle">0</text>
<text transform="translate(1837.6 729) scale(1.03 1)" font-size="29" text-anchor="middle">0</text>
<text transform="translate(1662.26 581.04) scale(1 1.54)" font-size="24" font-family="'DejaVu Sans', sans-serif" fill="#222">⎛</text>
<text transform="translate(1662.26 676.76) scale(1 3.97)" font-size="24" font-family="'DejaVu Sans', sans-serif" fill="#222">⎜</text>
<text transform="translate(1662.26 732.73) scale(1 1.54)" font-size="24" font-family="'DejaVu Sans', sans-serif" fill="#222">⎝</text>
<text transform="translate(1850.84 581.04) scale(1 1.54)" font-size="24" font-family="'DejaVu Sans', sans-serif" fill="#222">⎞</text>
<text transform="translate(1850.84 676.76) scale(1 3.97)" font-size="24" font-family="'DejaVu Sans', sans-serif" fill="#222">⎟</text>
<text transform="translate(1850.84 732.73) scale(1 1.54)" font-size="24" font-family="'DejaVu Sans', sans-serif" fill="#222">⎠</text>
<text transform="translate(1500.05 651.03) scale(0.9 1.39)" font-size="29">|</text>
<text x="1509.44" y="652.4" font-size="30.5" font-style="italic">H</text>
<text x="1530.77" y="661.5" font-size="21.2">mesh</text>
<text x="1583.79" y="652.4" font-size="30.5" font-style="italic">H</text>
<text transform="translate(1605.45 651.03) scale(0.9 1.39)" font-size="29">|</text>
<text transform="translate(1612.2 632.4) scale(1.1 1)" font-size="20">2</text>
<text transform="translate(1637.23 650.74) scale(1.08 0.84)" font-size="29">=</text>
<polyline points="78.01,1198.34 231.61,1067.86 551.94,1108.95" fill="none" stroke="#a2a6a9" stroke-width="1.7" stroke-linejoin="round"/>
<polyline points="75.18,1149.13 230.8,1026.46 554.41,1065.06" fill="none" stroke="#a2a6a9" stroke-width="1.7" stroke-linejoin="round"/>
<polyline points="72.29,1098.73 229.97,984.24 556.93,1020.25" fill="none" stroke="#a2a6a9" stroke-width="1.7" stroke-linejoin="round"/>
<polyline points="69.32,1047.1 229.13,941.18 559.5,974.48" fill="none" stroke="#a2a6a9" stroke-width="1.7" stroke-linejoin="round"/>
<polyline points="66.29,994.19 228.27,897.26 562.13,927.73" fill="none" stroke="#a2a6a9" stroke-width="1.7" stroke-linejoin="round"/>
<polyline points="63.17,939.96 227.4,852.45 564.82,879.97" fill="none" stroke="#a2a6a9" stroke-width="1.7" stroke-linejoin="round"/>
<line x1="78.01" y1="1198.34" x2="63.17" y2="939.96" stroke="#a2a6a9" stroke-width="1.7"/>
<polyline points="78.01,1198.34 462.82,1260.69 551.94,1108.95" fill="none" stroke="#a2a6a9" stroke-width="1.7" stroke-linejoin="round"/>
<line x1="71.51" y1="1198.34" x2="78.01" y2="1198.34" stroke="#a2a6a9" stroke-width="1.7"/>
<line x1="68.68" y1="1149.13" x2="75.18" y2="1149.13" stroke="#a2a6a9" stroke-width="1.7"/>
<line x1="65.79" y1="1098.73" x2="72.29" y2="1098.73" stroke="#a2a6a9" stroke-width="1.7"/>
<line x1="62.82" y1="1047.1" x2="69.32" y2="1047.1" stroke="#a2a6a9" stroke-width="1.7"/>
<line x1="59.79" y1="994.19" x2="66.29" y2="994.19" stroke="#a2a6a9" stroke-width="1.7"/>
<line x1="56.67" y1="939.96" x2="63.17" y2="939.96" stroke="#a2a6a9" stroke-width="1.7"/>
<line x1="78.01" y1="1198.34" x2="78.01" y2="1206.34" stroke="#a2a6a9" stroke-width="1.7"/>
<line x1="462.82" y1="1260.69" x2="470.82" y2="1260.69" stroke="#a2a6a9" stroke-width="1.7"/>
<line x1="168.35" y1="1212.98" x2="168.35" y2="1220.98" stroke="#a2a6a9" stroke-width="1.7"/>
<line x1="488.93" y1="1216.24" x2="496.93" y2="1216.24" stroke="#a2a6a9" stroke-width="1.7"/>
<line x1="262.44" y1="1228.22" x2="262.44" y2="1236.22" stroke="#a2a6a9" stroke-width="1.7"/>
<line x1="512.21" y1="1176.61" x2="520.21" y2="1176.61" stroke="#a2a6a9" stroke-width="1.7"/>
<line x1="360.51" y1="1244.11" x2="360.51" y2="1252.11" stroke="#a2a6a9" stroke-width="1.7"/>
<line x1="533.09" y1="1141.04" x2="541.09" y2="1141.04" stroke="#a2a6a9" stroke-width="1.7"/>
<line x1="462.82" y1="1260.69" x2="462.82" y2="1268.69" stroke="#a2a6a9" stroke-width="1.7"/>
<line x1="551.94" y1="1108.95" x2="559.94" y2="1108.95" stroke="#a2a6a9" stroke-width="1.7"/>
<polygon points="263.43,1094.4 275.71,1082.96 275.7,1081.71 263.41,1093.12" fill="#243893" stroke="#243893" stroke-width="0.7"/>
<polygon points="232.12,1090.23 263.43,1094.4 263.41,1093.12 232.1,1088.96" fill="#2e287a" stroke="#2e287a" stroke-width="0.7"/>
<polygon points="232.1,1088.96 263.41,1093.12 275.7,1081.71 244.88,1077.7" fill="#2f2d8a" stroke="#2f2d8a" stroke-width="0.7"/>
<polygon points="426.59,1116.12 436.13,1103.86 436.21,1101.27 426.66,1113.48" fill="#009f3e" stroke="#009f3e" stroke-width="0.7"/>
<polygon points="393.04,1111.65 426.59,1116.12 426.66,1113.48 393.09,1109.03" fill="#006a33" stroke="#006a33" stroke-width="0.7"/>
<polygon points="393.09,1109.03 426.66,1113.48 436.21,1101.27 403.22,1096.99" fill="#007e38" stroke="#007e38" stroke-width="0.7"/>
<polygon points="343.6,1105.07 354.56,1093.24 356.66,869.39 345.15,877.28" fill="#e2001a" stroke="#e2001a" stroke-width="0.7"/>
<polygon points="311.2,1100.76 343.6,1105.07 345.15,877.28 311,874.38" fill="#a71816" stroke="#a71816" stroke-width="0.7"/>
<polygon points="311,874.38 345.15,877.28 356.66,869.39 323.11,866.61" fill="#c9151a" stroke="#c9151a" stroke-width="0.7"/>
<polygon points="512.55,1127.56 520.57,1114.87 520.7,1112.24 512.68,1124.89" fill="#e8680a" stroke="#e8680a" stroke-width="0.7"/>
<polygon points="477.8,1122.93 512.55,1127.56 512.68,1124.89 477.9,1120.28" fill="#953e14" stroke="#953e14" stroke-width="0.7"/>
<polygon points="477.9,1120.28 512.68,1124.89 520.7,1112.24 486.55,1107.81" fill="#b5511a" stroke="#b5511a" stroke-width="0.7"/>
<polygon points="314.23,1136.77 326.33,1123.71 326.35,1115.94 314.23,1128.86" fill="#e2001a" stroke="#e2001a" stroke-width="0.7"/>
<polygon points="280.41,1132.01 314.23,1136.77 314.23,1128.86 280.34,1124.15" fill="#a71816" stroke="#a71816" stroke-width="0.7"/>
<polygon points="280.34,1124.15 314.23,1128.86 326.35,1115.94 293.05,1111.41" fill="#c9151a" stroke="#c9151a" stroke-width="0.7"/>
<polygon points="230.57,1125 244.1,1112.4 240.23,882.13 225.86,890.56" fill="#243893" stroke="#243893" stroke-width="0.7"/>
<polygon points="197.94,1120.41 230.57,1125 225.86,890.56 191.45,887.46" fill="#2e287a" stroke="#2e287a" stroke-width="0.7"/>
<polygon points="191.45,887.46 225.86,890.56 240.23,882.13 206.43,879.16" fill="#2f2d8a" stroke="#2f2d8a" stroke-width="0.7"/>
<polygon points="400.99,1148.98 411.55,1135.43 411.61,1132.73 401.05,1146.23" fill="#009f3e" stroke="#009f3e" stroke-width="0.7"/>
<polygon points="365.91,1144.04 400.99,1148.98 401.05,1146.23 365.94,1141.31" fill="#006a33" stroke="#006a33" stroke-width="0.7"/>
<polygon points="365.94,1141.31 401.05,1146.23 411.61,1132.73 377.13,1128.01" fill="#007e38" stroke="#007e38" stroke-width="0.7"/>
<polygon points="194.25,1158.82 209.23,1144.87 209.19,1143.51 194.2,1157.43" fill="#243893" stroke="#243893" stroke-width="0.7"/>
<polygon points="160.17,1153.74 194.25,1158.82 194.2,1157.43 160.12,1152.36" fill="#2e287a" stroke="#2e287a" stroke-width="0.7"/>
<polygon points="160.12,1152.36 194.2,1157.43 209.19,1143.51 175.7,1138.64" fill="#2f2d8a" stroke="#2f2d8a" stroke-width="0.7"/>
<polygon points="491.03,1161.64 499.91,1147.59 500.03,1144.84 491.15,1158.85" fill="#e8680a" stroke="#e8680a" stroke-width="0.7"/>
<polygon points="454.61,1156.52 491.03,1161.64 491.15,1158.85 454.7,1153.74" fill="#953e14" stroke="#953e14" stroke-width="0.7"/>
<polygon points="454.7,1153.74 491.15,1158.85 500.03,1144.84 464.27,1139.94" fill="#b5511a" stroke="#b5511a" stroke-width="0.7"/>
<polygon points="281.71,1171.88 295.13,1157.39 295.11,1153.68 281.68,1168.1" fill="#e2001a" stroke="#e2001a" stroke-width="0.7"/>
<polygon points="246.33,1166.6 281.71,1171.88 281.68,1168.1 246.26,1162.85" fill="#a71816" stroke="#a71816" stroke-width="0.7"/>
<polygon points="246.26,1162.85 281.68,1168.1 295.11,1153.68 260.34,1148.64" fill="#c9151a" stroke="#c9151a" stroke-width="0.7"/>
<polygon points="153.87,1196.42 170.55,1180.89 170.5,1179.46 153.81,1194.96" fill="#243893" stroke="#243893" stroke-width="0.7"/>
<polygon points="118.23,1190.76 153.87,1196.42 153.81,1194.96 118.17,1189.31" fill="#2e287a" stroke="#2e287a" stroke-width="0.7"/>
<polygon points="118.17,1189.31 153.81,1194.96 170.5,1179.46 135.49,1174.05" fill="#2f2d8a" stroke="#2f2d8a" stroke-width="0.7"/>
<polygon points="467.1,1199.54 476.98,1183.88 477.1,1181.02 467.2,1196.62" fill="#e8680a" stroke="#e8680a" stroke-width="0.7"/>
<polygon points="428.85,1193.83 467.1,1199.54 467.2,1196.62 428.93,1190.93" fill="#953e14" stroke="#953e14" stroke-width="0.7"/>
<polygon points="428.93,1190.93 467.2,1196.62 477.1,1181.02 439.57,1175.57" fill="#b5511a" stroke="#b5511a" stroke-width="0.7"/>
<polygon points="372.59,1185.44 384.32,1170.38 388.49,921.17 376.14,931.34" fill="#009f3e" stroke="#009f3e" stroke-width="0.7"/>
<polygon points="335.82,1179.95 372.59,1185.44 376.14,931.34 337.09,927.61" fill="#006a33" stroke="#006a33" stroke-width="0.7"/>
<polygon points="337.09,927.61 376.14,931.34 388.49,921.17 350.22,917.6" fill="#007e38" stroke="#007e38" stroke-width="0.7"/>
<polygon points="245.49,1210.97 260.46,1194.81 260.38,1188.51 245.38,1204.55" fill="#e2001a" stroke="#e2001a" stroke-width="0.7"/>
<polygon points="208.4,1205.08 245.49,1210.97 245.38,1204.55 208.24,1198.7" fill="#a71816" stroke="#a71816" stroke-width="0.7"/>
<polygon points="208.24,1198.7 245.38,1204.55 260.38,1188.51 223.94,1182.92" fill="#c9151a" stroke="#c9151a" stroke-width="0.7"/>
<polygon points="340.9,1226.13 354.01,1209.3 354.03,1206.34 340.92,1223.12" fill="#009f3e" stroke="#009f3e" stroke-width="0.7"/>
<polygon points="302.27,1219.99 340.9,1226.13 340.92,1223.12 302.26,1217" fill="#006a33" stroke="#006a33" stroke-width="0.7"/>
<polygon points="302.26,1217 340.92,1223.12 354.03,1206.34 316.14,1200.5" fill="#007e38" stroke="#007e38" stroke-width="0.7"/>
<polygon points="440.33,1241.93 451.41,1224.38 460.29,957.85 448.69,969.83" fill="#e8680a" stroke="#e8680a" stroke-width="0.7"/>
<polygon points="400.06,1235.53 440.33,1241.93 448.69,969.83 405.69,965.43" fill="#953e14" stroke="#953e14" stroke-width="0.7"/>
<polygon points="405.69,965.43 448.69,969.83 460.29,957.85 418.23,953.67" fill="#b5511a" stroke="#b5511a" stroke-width="0.7"/>
<text x="63.51" y="1209.34" font-size="29.5" text-anchor="end">0</text>
<text x="60.68" y="1160.13" font-size="29.5" text-anchor="end">0.2</text>
<text x="57.79" y="1109.73" font-size="29.5" text-anchor="end">0.4</text>
<text x="54.82" y="1058.1" font-size="29.5" text-anchor="end">0.6</text>
<text x="51.79" y="1005.19" font-size="29.5" text-anchor="end">0.8</text>
<text x="48.67" y="950.96" font-size="29.5" text-anchor="end">1</text>
<text transform="translate(122.6 1247.9) scale(1 1.03)" font-size="29.5" text-anchor="middle">A</text>
<text transform="translate(215.3 1266.4) scale(1 1.03)" font-size="29.5" text-anchor="middle">B</text>
<text transform="translate(312.8 1278.3) scale(1 1.03)" font-size="29.5" text-anchor="middle">C</text>
<text transform="translate(413 1294) scale(1 1.03)" font-size="29.5" text-anchor="middle">D</text>
<text transform="translate(499.3 1251.4) scale(1 1.06)" font-size="29.8">Out<tspan font-size="20" dx="0.3" dy="8.5">1</tspan></text>
<text transform="translate(523.1 1211.8) scale(1 1.06)" font-size="29.8">Out<tspan font-size="20" dx="0.3" dy="8.5">2</tspan></text>
<text transform="translate(544.6 1177.2) scale(1 1.06)" font-size="29.8">Out<tspan font-size="20" dx="0.3" dy="8.5">3</tspan></text>
<text transform="translate(566.3 1141.2) scale(1 1.06)" font-size="29.8">Out<tspan font-size="20" dx="0.3" dy="8.5">4</tspan></text>
<rect x="592.6" y="858.1" width="17.1" height="16.4" fill="#283593"/>
<text x="624.58" y="873.3" font-size="24.5">A</text>
<rect x="592.6" y="912.6" width="17.1" height="16.4" fill="#e2001a"/>
<text x="622.74" y="927.8" font-size="24.5">B</text>
<rect x="592.6" y="967.1" width="17.1" height="16.4" fill="#00a040"/>
<text x="623.48" y="982.3" font-size="24.5">C</text>
<rect x="592.6" y="1022.6" width="17.1" height="16.4" fill="#e8680a"/>
<text x="622.74" y="1037.8" font-size="24.5">D</text>
<text transform="translate(245.02 836.3) scale(1.03 1)" font-size="29">D, C, A, B</text>
<text x="4" y="827" font-size="42" font-weight="bold" fill="#111">d</text>
<text transform="translate(338.5 1356.3) scale(1.03 1)" font-size="29" text-anchor="middle">0</text>
<text transform="translate(387.5 1356.3) scale(1.03 1)" font-size="29" text-anchor="middle">0</text>
<text transform="translate(436.8 1356.3) scale(1.03 1)" font-size="29" text-anchor="middle">1</text>
<text transform="translate(486.2 1356.3) scale(1.03 1)" font-size="29" text-anchor="middle">0</text>
<text transform="translate(338.5 1409.4) scale(1.03 1)" font-size="29" text-anchor="middle">0</text>
<text transform="translate(387.5 1409.4) scale(1.03 1)" font-size="29" text-anchor="middle">0</text>
<text transform="translate(436.8 1409.4) scale(1.03 1)" font-size="29" text-anchor="middle">0</text>
<text transform="translate(486.2 1409.4) scale(1.03 1)" font-size="29" text-anchor="middle">1</text>
<text transform="translate(338.5 1460.5) scale(1.03 1)" font-size="29" text-anchor="middle">0</text>
<text transform="translate(387.5 1460.5) scale(1.03 1)" font-size="29" text-anchor="middle">1</text>
<text transform="translate(436.8 1460.5) scale(1.03 1)" font-size="29" text-anchor="middle">0</text>
<text transform="translate(486.2 1460.5) scale(1.03 1)" font-size="29" text-anchor="middle">0</text>
<text transform="translate(338.5 1512.3) scale(1.03 1)" font-size="29" text-anchor="middle">1</text>
<text transform="translate(387.5 1512.3) scale(1.03 1)" font-size="29" text-anchor="middle">0</text>
<text transform="translate(436.8 1512.3) scale(1.03 1)" font-size="29" text-anchor="middle">0</text>
<text transform="translate(486.2 1512.3) scale(1.03 1)" font-size="29" text-anchor="middle">0</text>
<text transform="translate(312.26 1364.04) scale(1 1.54)" font-size="24" font-family="'DejaVu Sans', sans-serif" fill="#222">⎛</text>
<text transform="translate(312.26 1460.47) scale(1 4.01)" font-size="24" font-family="'DejaVu Sans', sans-serif" fill="#222">⎜</text>
<text transform="translate(312.26 1516.63) scale(1 1.54)" font-size="24" font-family="'DejaVu Sans', sans-serif" fill="#222">⎝</text>
<text transform="translate(499.84 1364.04) scale(1 1.54)" font-size="24" font-family="'DejaVu Sans', sans-serif" fill="#222">⎞</text>
<text transform="translate(499.84 1460.47) scale(1 4.01)" font-size="24" font-family="'DejaVu Sans', sans-serif" fill="#222">⎟</text>
<text transform="translate(499.84 1516.63) scale(1 1.54)" font-size="24" font-family="'DejaVu Sans', sans-serif" fill="#222">⎠</text>
<text transform="translate(150.65 1434.63) scale(0.9 1.39)" font-size="29">|</text>
<text x="160.03" y="1436" font-size="30.5" font-style="italic">H</text>
<text x="181.37" y="1445.1" font-size="21.2">mesh</text>
<text x="234.39" y="1436" font-size="30.5" font-style="italic">H</text>
<text transform="translate(256.05 1434.63) scale(0.9 1.39)" font-size="29">|</text>
<text transform="translate(262.8 1416) scale(1.1 1)" font-size="20">2</text>
<text transform="translate(287.83 1434.34) scale(1.08 0.84)" font-size="29">=</text>
<polyline points="759.28,1199.22 906.74,1072.6 1219.66,1112.62" fill="none" stroke="#a2a6a9" stroke-width="1.7" stroke-linejoin="round"/>
<polyline points="756.78,1149.03 906.06,1030.21 1222.03,1067.8" fill="none" stroke="#a2a6a9" stroke-width="1.7" stroke-linejoin="round"/>
<polyline points="754.23,1097.7 905.37,987.01 1224.46,1022.08" fill="none" stroke="#a2a6a9" stroke-width="1.7" stroke-linejoin="round"/>
<polyline points="751.61,1045.18 904.66,943 1226.93,975.43" fill="none" stroke="#a2a6a9" stroke-width="1.7" stroke-linejoin="round"/>
<polyline points="748.94,991.43 903.94,898.15 1229.46,927.83" fill="none" stroke="#a2a6a9" stroke-width="1.7" stroke-linejoin="round"/>
<polyline points="746.2,936.4 903.21,852.43 1232.03,879.25" fill="none" stroke="#a2a6a9" stroke-width="1.7" stroke-linejoin="round"/>
<line x1="759.28" y1="1199.22" x2="746.2" y2="936.4" stroke="#a2a6a9" stroke-width="1.7"/>
<polyline points="759.28,1199.22 1132.95,1258.82 1219.66,1112.62" fill="none" stroke="#a2a6a9" stroke-width="1.7" stroke-linejoin="round"/>
<line x1="752.78" y1="1199.22" x2="759.28" y2="1199.22" stroke="#a2a6a9" stroke-width="1.7"/>
<line x1="750.28" y1="1149.03" x2="756.78" y2="1149.03" stroke="#a2a6a9" stroke-width="1.7"/>
<line x1="747.73" y1="1097.7" x2="754.23" y2="1097.7" stroke="#a2a6a9" stroke-width="1.7"/>
<line x1="745.11" y1="1045.18" x2="751.61" y2="1045.18" stroke="#a2a6a9" stroke-width="1.7"/>
<line x1="742.44" y1="991.43" x2="748.94" y2="991.43" stroke="#a2a6a9" stroke-width="1.7"/>
<line x1="739.7" y1="936.4" x2="746.2" y2="936.4" stroke="#a2a6a9" stroke-width="1.7"/>
<line x1="759.28" y1="1199.22" x2="759.28" y2="1207.22" stroke="#a2a6a9" stroke-width="1.7"/>
<line x1="1132.95" y1="1258.82" x2="1140.95" y2="1258.82" stroke="#a2a6a9" stroke-width="1.7"/>
<line x1="847.33" y1="1213.26" x2="847.33" y2="1221.26" stroke="#a2a6a9" stroke-width="1.7"/>
<line x1="1158.2" y1="1216.25" x2="1166.2" y2="1216.25" stroke="#a2a6a9" stroke-width="1.7"/>
<line x1="938.82" y1="1227.86" x2="938.82" y2="1235.86" stroke="#a2a6a9" stroke-width="1.7"/>
<line x1="1180.82" y1="1178.11" x2="1188.82" y2="1178.11" stroke="#a2a6a9" stroke-width="1.7"/>
<line x1="1033.95" y1="1243.03" x2="1033.95" y2="1251.03" stroke="#a2a6a9" stroke-width="1.7"/>
<line x1="1201.2" y1="1143.75" x2="1209.2" y2="1143.75" stroke="#a2a6a9" stroke-width="1.7"/>
<line x1="1132.95" y1="1258.82" x2="1132.95" y2="1266.82" stroke="#a2a6a9" stroke-width="1.7"/>
<line x1="1219.66" y1="1112.62" x2="1227.66" y2="1112.62" stroke="#a2a6a9" stroke-width="1.7"/>
<polygon points="938.19,1098.49 950.06,1087.34 950.05,1086.06 938.18,1097.18" fill="#243893" stroke="#243893" stroke-width="0.7"/>
<polygon points="907.55,1094.43 938.19,1098.49 938.18,1097.18 907.53,1093.13" fill="#2e287a" stroke="#2e287a" stroke-width="0.7"/>
<polygon points="907.53,1093.13 938.18,1097.18 950.05,1086.06 919.87,1082.15" fill="#2f2d8a" stroke="#2f2d8a" stroke-width="0.7"/>
<polygon points="1016.55,1108.87 1027.17,1097.35 1027.19,1094.74 1016.57,1106.22" fill="#e2001a" stroke="#e2001a" stroke-width="0.7"/>
<polygon points="984.9,1104.68 1016.55,1108.87 1016.57,1106.22 984.9,1102.04" fill="#a71816" stroke="#a71816" stroke-width="0.7"/>
<polygon points="984.9,1102.04 1016.57,1106.22 1027.19,1094.74 996.03,1090.71" fill="#c9151a" stroke="#c9151a" stroke-width="0.7"/>
<polygon points="1181.25,1130.69 1189.08,1118.37 1189.21,1115.69 1181.37,1127.96" fill="#e8680a" stroke="#e8680a" stroke-width="0.7"/>
<polygon points="1147.42,1126.21 1181.25,1130.69 1181.37,1127.96 1147.52,1123.49" fill="#953e14" stroke="#953e14" stroke-width="0.7"/>
<polygon points="1147.52,1123.49 1181.37,1127.96 1189.21,1115.69 1155.95,1111.39" fill="#b5511a" stroke="#b5511a" stroke-width="0.7"/>
<polygon points="1097.53,1119.6 1106.8,1107.69 1113.3,875.84 1103.68,883.71" fill="#009f3e" stroke="#009f3e" stroke-width="0.7"/>
<polygon points="1064.82,1115.27 1097.53,1119.6 1103.68,883.71 1069.22,880.8" fill="#006a33" stroke="#006a33" stroke-width="0.7"/>
<polygon points="1069.22,880.8 1103.68,883.71 1113.3,875.84 1079.46,873.04" fill="#007e38" stroke="#007e38" stroke-width="0.7"/>
<polygon points="988.19,1139.65 999.86,1126.98 999.88,1124.26 988.19,1136.89" fill="#e2001a" stroke="#e2001a" stroke-width="0.7"/>
<polygon points="955.18,1135.04 988.19,1139.65 988.19,1136.89 955.17,1132.29" fill="#a71816" stroke="#a71816" stroke-width="0.7"/>
<polygon points="955.17,1132.29 988.19,1136.89 999.88,1124.26 967.4,1119.84" fill="#c9151a" stroke="#c9151a" stroke-width="0.7"/>
<polygon points="906.51,1128.25 919.54,1116.01 916.41,881.1 902.62,889.2" fill="#243893" stroke="#243893" stroke-width="0.7"/>
<polygon points="874.61,1123.79 906.51,1128.25 902.62,889.2 869.06,886.21" fill="#2e287a" stroke="#2e287a" stroke-width="0.7"/>
<polygon points="869.06,886.21 902.62,889.2 916.41,881.1 883.42,878.22" fill="#2f2d8a" stroke="#2f2d8a" stroke-width="0.7"/>
<polygon points="1072.73,1151.46 1082.94,1138.34 1083,1135.58 1072.78,1148.65" fill="#009f3e" stroke="#009f3e" stroke-width="0.7"/>
<polygon points="1038.56,1146.68 1072.73,1151.46 1072.78,1148.65 1038.59,1143.89" fill="#006a33" stroke="#006a33" stroke-width="0.7"/>
<polygon points="1038.59,1143.89 1072.78,1148.65 1083,1135.58 1049.41,1131.01" fill="#007e38" stroke="#007e38" stroke-width="0.7"/>
<polygon points="871.61,1161.03 885.99,1147.53 885.96,1146.13 871.58,1159.61" fill="#243893" stroke="#243893" stroke-width="0.7"/>
<polygon points="838.35,1156.12 871.61,1161.03 871.58,1159.61 838.3,1154.71" fill="#2e287a" stroke="#2e287a" stroke-width="0.7"/>
<polygon points="838.3,1154.71 871.58,1159.61 885.96,1146.13 853.24,1141.42" fill="#2f2d8a" stroke="#2f2d8a" stroke-width="0.7"/>
<polygon points="1160.28,1163.68 1168.92,1150.09 1169.04,1147.29 1160.39,1160.83" fill="#e8680a" stroke="#e8680a" stroke-width="0.7"/>
<polygon points="1124.88,1158.74 1160.28,1163.68 1160.39,1160.83 1124.98,1155.91" fill="#953e14" stroke="#953e14" stroke-width="0.7"/>
<polygon points="1124.98,1155.91 1160.39,1160.83 1169.04,1147.29 1134.26,1142.55" fill="#b5511a" stroke="#b5511a" stroke-width="0.7"/>
<polygon points="956.89,1173.62 969.79,1159.62 969.78,1156.78 956.87,1170.73" fill="#e2001a" stroke="#e2001a" stroke-width="0.7"/>
<polygon points="922.41,1168.53 956.89,1173.62 956.87,1170.73 922.37,1165.66" fill="#a71816" stroke="#a71816" stroke-width="0.7"/>
<polygon points="922.37,1165.66 956.87,1170.73 969.78,1156.78 935.89,1151.91" fill="#c9151a" stroke="#c9151a" stroke-width="0.7"/>
<polygon points="1045.31,1186.67 1056.61,1172.15 1056.7,1167.35 1045.38,1181.78" fill="#009f3e" stroke="#009f3e" stroke-width="0.7"/>
<polygon points="1009.55,1181.39 1045.31,1186.67 1045.38,1181.78 1009.58,1176.54" fill="#006a33" stroke="#006a33" stroke-width="0.7"/>
<polygon points="1009.58,1176.54 1045.38,1181.78 1056.7,1167.35 1021.56,1162.31" fill="#007e38" stroke="#007e38" stroke-width="0.7"/>
<polygon points="832.97,1197.33 848.92,1182.36 848.74,1176.27 832.77,1191.14" fill="#243893" stroke="#243893" stroke-width="0.7"/>
<polygon points="798.23,1191.89 832.97,1197.33 832.77,1191.14 797.97,1185.73" fill="#2e287a" stroke="#2e287a" stroke-width="0.7"/>
<polygon points="797.97,1185.73 832.77,1191.14 848.74,1176.27 814.55,1171.09" fill="#2f2d8a" stroke="#2f2d8a" stroke-width="0.7"/>
<polygon points="1137.04,1200.21 1146.63,1185.14 1156.29,927.46 1146.36,937.56" fill="#e8680a" stroke="#e8680a" stroke-width="0.7"/>
<polygon points="1099.94,1194.74 1137.04,1200.21 1146.36,937.56 1107,933.84" fill="#953e14" stroke="#953e14" stroke-width="0.7"/>
<polygon points="1107,933.84 1146.36,937.56 1156.29,927.46 1117.72,923.9" fill="#b5511a" stroke="#b5511a" stroke-width="0.7"/>
<polygon points="1014.83,1225.81 1027.42,1209.64 1027.48,1204.62 1014.87,1220.7" fill="#009f3e" stroke="#009f3e" stroke-width="0.7"/>
<polygon points="977.34,1219.94 1014.83,1225.81 1014.87,1220.7 977.34,1214.86" fill="#006a33" stroke="#006a33" stroke-width="0.7"/>
<polygon points="977.34,1214.86 1014.87,1220.7 1027.48,1204.62 990.65,1199.03" fill="#007e38" stroke="#007e38" stroke-width="0.7"/>
<polygon points="922.17,1211.3 936.5,1195.74 933.95,934.3 918.69,944.74" fill="#e2001a" stroke="#e2001a" stroke-width="0.7"/>
<polygon points="886.09,1205.65 922.17,1211.3 918.69,944.74 880.48,940.89" fill="#a71816" stroke="#a71816" stroke-width="0.7"/>
<polygon points="880.48,940.89 918.69,944.74 933.95,934.3 896.47,930.62" fill="#c9151a" stroke="#c9151a" stroke-width="0.7"/>
<polygon points="1111.18,1240.9 1121.87,1224.08 1121.97,1221.02 1111.27,1237.78" fill="#e8680a" stroke="#e8680a" stroke-width="0.7"/>
<polygon points="1072.18,1234.79 1111.18,1240.9 1111.27,1237.78 1072.25,1231.69" fill="#953e14" stroke="#953e14" stroke-width="0.7"/>
<polygon points="1072.25,1231.69 1111.27,1237.78 1121.97,1221.02 1083.72,1215.2" fill="#b5511a" stroke="#b5511a" stroke-width="0.7"/>
<text x="744.78" y="1210.22" font-size="29.5" text-anchor="end">0</text>
<text x="742.28" y="1160.03" font-size="29.5" text-anchor="end">0.2</text>
<text x="739.73" y="1108.7" font-size="29.5" text-anchor="end">0.4</text>
<text x="737.11" y="1056.18" font-size="29.5" text-anchor="end">0.6</text>
<text x="734.44" y="1002.43" font-size="29.5" text-anchor="end">0.8</text>
<text x="731.7" y="947.4" font-size="29.5" text-anchor="end">1</text>
<text transform="translate(805 1244.3) scale(1 1.03)" font-size="29.5" text-anchor="middle">A</text>
<text transform="translate(896.5 1262.9) scale(1 1.03)" font-size="29.5" text-anchor="middle">B</text>
<text transform="translate(990 1276.3) scale(1 1.03)" font-size="29.5" text-anchor="middle">C</text>
<text transform="translate(1084.3 1293.2) scale(1 1.03)" font-size="29.5" text-anchor="middle">D</text>
<text transform="translate(1169.9 1255) scale(1 1.06)" font-size="29.8">Out<tspan font-size="20" dx="0.3" dy="8.5">1</tspan></text>
<text transform="translate(1193 1216.8) scale(1 1.06)" font-size="29.8">Out<tspan font-size="20" dx="0.3" dy="8.5">2</tspan></text>
<text transform="translate(1214.6 1177.2) scale(1 1.06)" font-size="29.8">Out<tspan font-size="20" dx="0.3" dy="8.5">3</tspan></text>
<text transform="translate(1234 1142.6) scale(1 1.06)" font-size="29.8">Out<tspan font-size="20" dx="0.3" dy="8.5">4</tspan></text>
<rect x="1257.5" y="869.2" width="15.5" height="16.5" fill="#283593"/>
<text x="1287.88" y="884.5" font-size="24.5">A</text>
<rect x="1257.5" y="922.4" width="15.5" height="16.5" fill="#e2001a"/>
<text x="1286.04" y="937.7" font-size="24.5">B</text>
<rect x="1257.5" y="973.7" width="15.5" height="16.5" fill="#00a040"/>
<text x="1286.78" y="989" font-size="24.5">C</text>
<rect x="1257.5" y="1026.3" width="15.5" height="16.5" fill="#e8680a"/>
<text x="1286.04" y="1041.6" font-size="24.5">D</text>
<text transform="translate(939.14 836.3) scale(1.02 1)" font-size="29">B, D, A, C</text>
<text x="692.1" y="827" font-size="42" font-weight="bold" fill="#111">e</text>
<text transform="translate(1011.5 1352.7) scale(1.03 1)" font-size="29" text-anchor="middle">0</text>
<text transform="translate(1060.5 1352.7) scale(1.03 1)" font-size="29" text-anchor="middle">0</text>
<text transform="translate(1110.3 1352.7) scale(1.03 1)" font-size="29" text-anchor="middle">1</text>
<text transform="translate(1159.6 1352.7) scale(1.03 1)" font-size="29" text-anchor="middle">0</text>
<text transform="translate(1011.5 1405.7) scale(1.03 1)" font-size="29" text-anchor="middle">1</text>
<text transform="translate(1060.5 1405.7) scale(1.03 1)" font-size="29" text-anchor="middle">0</text>
<text transform="translate(1110.3 1405.7) scale(1.03 1)" font-size="29" text-anchor="middle">0</text>
<text transform="translate(1159.6 1405.7) scale(1.03 1)" font-size="29" text-anchor="middle">0</text>
<text transform="translate(1011.5 1456.2) scale(1.03 1)" font-size="29" text-anchor="middle">0</text>
<text transform="translate(1060.5 1456.2) scale(1.03 1)" font-size="29" text-anchor="middle">0</text>
<text transform="translate(1110.3 1456.2) scale(1.03 1)" font-size="29" text-anchor="middle">0</text>
<text transform="translate(1159.6 1456.2) scale(1.03 1)" font-size="29" text-anchor="middle">1</text>
<text transform="translate(1011.5 1509.3) scale(1.03 1)" font-size="29" text-anchor="middle">0</text>
<text transform="translate(1060.5 1509.3) scale(1.03 1)" font-size="29" text-anchor="middle">1</text>
<text transform="translate(1110.3 1509.3) scale(1.03 1)" font-size="29" text-anchor="middle">0</text>
<text transform="translate(1159.6 1509.3) scale(1.03 1)" font-size="29" text-anchor="middle">0</text>
<text transform="translate(985.26 1359.94) scale(1 1.54)" font-size="24" font-family="'DejaVu Sans', sans-serif" fill="#222">⎛</text>
<text transform="translate(985.26 1457.24) scale(1 4.04)" font-size="24" font-family="'DejaVu Sans', sans-serif" fill="#222">⎜</text>
<text transform="translate(985.26 1513.63) scale(1 1.54)" font-size="24" font-family="'DejaVu Sans', sans-serif" fill="#222">⎝</text>
<text transform="translate(1172.84 1359.94) scale(1 1.54)" font-size="24" font-family="'DejaVu Sans', sans-serif" fill="#222">⎞</text>
<text transform="translate(1172.84 1457.24) scale(1 4.04)" font-size="24" font-family="'DejaVu Sans', sans-serif" fill="#222">⎟</text>
<text transform="translate(1172.84 1513.63) scale(1 1.54)" font-size="24" font-family="'DejaVu Sans', sans-serif" fill="#222">⎠</text>
<text transform="translate(823.75 1435.13) scale(0.9 1.39)" font-size="29">|</text>
<text x="833.14" y="1436.5" font-size="30.5" font-style="italic">H</text>
<text x="854.47" y="1445.6" font-size="21.2">mesh</text>
<text x="907.49" y="1436.5" font-size="30.5" font-style="italic">H</text>
<text transform="translate(929.15 1435.13) scale(0.9 1.39)" font-size="29">|</text>
<text transform="translate(935.9 1416.5) scale(1.1 1)" font-size="20">2</text>
<text transform="translate(960.93 1434.84) scale(1.08 0.84)" font-size="29">=</text>
<polyline points="1436.38,1199.87 1585.14,1072.38 1898.13,1112.91" fill="none" stroke="#a2a6a9" stroke-width="1.7" stroke-linejoin="round"/>
<polyline points="1433.68,1149.76 1584.4,1030.11 1900.66,1068.15" fill="none" stroke="#a2a6a9" stroke-width="1.7" stroke-linejoin="round"/>
<polyline points="1430.91,1098.42 1583.65,986.98 1903.24,1022.43" fill="none" stroke="#a2a6a9" stroke-width="1.7" stroke-linejoin="round"/>
<polyline points="1428.08,1045.81 1582.89,942.99 1905.88,975.72" fill="none" stroke="#a2a6a9" stroke-width="1.7" stroke-linejoin="round"/>
<polyline points="1425.18,991.87 1582.11,898.1 1908.58,927.99" fill="none" stroke="#a2a6a9" stroke-width="1.7" stroke-linejoin="round"/>
<polyline points="1422.2,936.57 1581.31,852.29 1911.33,879.2" fill="none" stroke="#a2a6a9" stroke-width="1.7" stroke-linejoin="round"/>
<line x1="1436.38" y1="1199.87" x2="1422.2" y2="936.57" stroke="#a2a6a9" stroke-width="1.7"/>
<polyline points="1436.38,1199.87 1811.2,1260.81 1898.13,1112.91" fill="none" stroke="#a2a6a9" stroke-width="1.7" stroke-linejoin="round"/>
<line x1="1429.88" y1="1199.87" x2="1436.38" y2="1199.87" stroke="#a2a6a9" stroke-width="1.7"/>
<line x1="1427.18" y1="1149.76" x2="1433.68" y2="1149.76" stroke="#a2a6a9" stroke-width="1.7"/>
<line x1="1424.41" y1="1098.42" x2="1430.91" y2="1098.42" stroke="#a2a6a9" stroke-width="1.7"/>
<line x1="1421.58" y1="1045.81" x2="1428.08" y2="1045.81" stroke="#a2a6a9" stroke-width="1.7"/>
<line x1="1418.68" y1="991.87" x2="1425.18" y2="991.87" stroke="#a2a6a9" stroke-width="1.7"/>
<line x1="1415.7" y1="936.57" x2="1422.2" y2="936.57" stroke="#a2a6a9" stroke-width="1.7"/>
<line x1="1436.38" y1="1199.87" x2="1436.38" y2="1207.87" stroke="#a2a6a9" stroke-width="1.7"/>
<line x1="1811.2" y1="1260.81" x2="1819.2" y2="1260.81" stroke="#a2a6a9" stroke-width="1.7"/>
<line x1="1524.5" y1="1214.2" x2="1524.5" y2="1222.2" stroke="#a2a6a9" stroke-width="1.7"/>
<line x1="1836.59" y1="1217.62" x2="1844.59" y2="1217.62" stroke="#a2a6a9" stroke-width="1.7"/>
<line x1="1616.19" y1="1229.11" x2="1616.19" y2="1237.11" stroke="#a2a6a9" stroke-width="1.7"/>
<line x1="1859.28" y1="1179.01" x2="1867.28" y2="1179.01" stroke="#a2a6a9" stroke-width="1.7"/>
<line x1="1711.68" y1="1244.63" x2="1711.68" y2="1252.63" stroke="#a2a6a9" stroke-width="1.7"/>
<line x1="1879.69" y1="1144.29" x2="1887.69" y2="1144.29" stroke="#a2a6a9" stroke-width="1.7"/>
<line x1="1811.2" y1="1260.81" x2="1811.2" y2="1268.81" stroke="#a2a6a9" stroke-width="1.7"/>
<line x1="1898.13" y1="1112.91" x2="1906.13" y2="1112.91" stroke="#a2a6a9" stroke-width="1.7"/>
<polygon points="1616.39,1098.43 1628.33,1087.23 1628.32,1085.95 1616.38,1097.13" fill="#243893" stroke="#243893" stroke-width="0.7"/>
<polygon points="1585.78,1094.32 1616.39,1098.43 1616.38,1097.13 1585.76,1093.02" fill="#2e287a" stroke="#2e287a" stroke-width="0.7"/>
<polygon points="1585.76,1093.02 1616.38,1097.13 1628.32,1085.95 1598.18,1081.99" fill="#2f2d8a" stroke="#2f2d8a" stroke-width="0.7"/>
<polygon points="1694.73,1108.95 1705.4,1097.36 1705.42,1094.76 1694.75,1106.3" fill="#e2001a" stroke="#e2001a" stroke-width="0.7"/>
<polygon points="1663.08,1104.7 1694.73,1108.95 1694.75,1106.3 1663.08,1102.07" fill="#a71816" stroke="#a71816" stroke-width="0.7"/>
<polygon points="1663.08,1102.07 1694.75,1106.3 1705.42,1094.76 1674.27,1090.68" fill="#c9151a" stroke="#c9151a" stroke-width="0.7"/>
<polygon points="1775.78,1119.83 1785.08,1107.84 1785.16,1105.2 1775.85,1117.15" fill="#009f3e" stroke="#009f3e" stroke-width="0.7"/>
<polygon points="1743.02,1115.43 1775.78,1119.83 1775.85,1117.15 1743.08,1112.76" fill="#006a33" stroke="#006a33" stroke-width="0.7"/>
<polygon points="1743.08,1112.76 1775.85,1117.15 1785.16,1105.2 1752.94,1100.98" fill="#007e38" stroke="#007e38" stroke-width="0.7"/>
<polygon points="1666.2,1139.95 1677.95,1127.18 1677.96,1124.47 1666.2,1137.19" fill="#e2001a" stroke="#e2001a" stroke-width="0.7"/>
<polygon points="1633.17,1135.26 1666.2,1139.95 1666.2,1137.19 1633.15,1132.52" fill="#a71816" stroke="#a71816" stroke-width="0.7"/>
<polygon points="1633.15,1132.52 1666.2,1137.19 1677.96,1124.47 1645.47,1119.98" fill="#c9151a" stroke="#c9151a" stroke-width="0.7"/>
<polygon points="1584.5,1128.37 1597.63,1116.04 1594.19,880.99 1580.25,889.12" fill="#243893" stroke="#243893" stroke-width="0.7"/>
<polygon points="1552.61,1123.85 1584.5,1128.37 1580.25,889.12 1546.6,886.1" fill="#2e287a" stroke="#2e287a" stroke-width="0.7"/>
<polygon points="1546.6,886.1 1580.25,889.12 1594.19,880.99 1561.12,878.1" fill="#2f2d8a" stroke="#2f2d8a" stroke-width="0.7"/>
<polygon points="1859.67,1131.1 1867.5,1118.68 1879.12,882.98 1871.08,891.17" fill="#e8680a" stroke="#e8680a" stroke-width="0.7"/>
<polygon points="1825.76,1126.54 1859.67,1131.1 1871.08,891.17 1835.17,888.13" fill="#953e14" stroke="#953e14" stroke-width="0.7"/>
<polygon points="1835.17,888.13 1871.08,891.17 1879.12,882.98 1843.88,880.06" fill="#b5511a" stroke="#b5511a" stroke-width="0.7"/>
<polygon points="1750.86,1151.95 1761.13,1138.71 1761.19,1135.96 1750.92,1149.14" fill="#009f3e" stroke="#009f3e" stroke-width="0.7"/>
<polygon points="1716.63,1147.09 1750.86,1151.95 1750.92,1149.14 1716.67,1144.31" fill="#006a33" stroke="#006a33" stroke-width="0.7"/>
<polygon points="1716.67,1144.31 1750.92,1149.14 1761.19,1135.96 1727.55,1131.31" fill="#007e38" stroke="#007e38" stroke-width="0.7"/>
<polygon points="1549.3,1161.4 1563.81,1147.79 1563.78,1146.39 1549.26,1159.98" fill="#243893" stroke="#243893" stroke-width="0.7"/>
<polygon points="1516.03,1156.41 1549.3,1161.4 1549.26,1159.98 1515.99,1155" fill="#2e287a" stroke="#2e287a" stroke-width="0.7"/>
<polygon points="1515.99,1155 1549.26,1159.98 1563.78,1146.39 1531.07,1141.61" fill="#2f2d8a" stroke="#2f2d8a" stroke-width="0.7"/>
<polygon points="1838.66,1164.39 1847.32,1150.67 1847.44,1147.87 1838.78,1161.54" fill="#e8680a" stroke="#e8680a" stroke-width="0.7"/>
<polygon points="1803.15,1159.36 1838.66,1164.39 1838.78,1161.54 1803.25,1156.53" fill="#953e14" stroke="#953e14" stroke-width="0.7"/>
<polygon points="1803.25,1156.53 1838.78,1161.54 1847.44,1147.87 1812.57,1143.05" fill="#b5511a" stroke="#b5511a" stroke-width="0.7"/>
<polygon points="1723.27,1187.52 1734.65,1172.84 1734.7,1169.96 1723.31,1184.59" fill="#009f3e" stroke="#009f3e" stroke-width="0.7"/>
<polygon points="1687.42,1182.13 1723.27,1187.52 1723.31,1184.59 1687.43,1179.23" fill="#006a33" stroke="#006a33" stroke-width="0.7"/>
<polygon points="1687.43,1179.23 1723.31,1184.59 1734.7,1169.96 1699.49,1164.82" fill="#007e38" stroke="#007e38" stroke-width="0.7"/>
<polygon points="1634.65,1174.21 1647.66,1160.08 1646.96,910.21 1633.14,919.6" fill="#e2001a" stroke="#e2001a" stroke-width="0.7"/>
<polygon points="1600.13,1169.03 1634.65,1174.21 1633.14,919.6 1596.54,916.12" fill="#a71816" stroke="#a71816" stroke-width="0.7"/>
<polygon points="1596.54,916.12 1633.14,919.6 1646.96,910.21 1611.05,906.87" fill="#c9151a" stroke="#c9151a" stroke-width="0.7"/>
<polygon points="1510.25,1198.05 1526.37,1182.92 1526.33,1181.47 1510.2,1196.57" fill="#243893" stroke="#243893" stroke-width="0.7"/>
<polygon points="1475.49,1192.5 1510.25,1198.05 1510.2,1196.57 1475.42,1191.03" fill="#2e287a" stroke="#2e287a" stroke-width="0.7"/>
<polygon points="1475.42,1191.03 1510.2,1196.57 1526.33,1181.47 1492.16,1176.16" fill="#2f2d8a" stroke="#2f2d8a" stroke-width="0.7"/>
<polygon points="1815.34,1201.34 1824.96,1186.08 1825.08,1183.16 1815.45,1198.36" fill="#e8680a" stroke="#e8680a" stroke-width="0.7"/>
<polygon points="1778.08,1195.74 1815.34,1201.34 1815.45,1198.36 1778.17,1192.79" fill="#953e14" stroke="#953e14" stroke-width="0.7"/>
<polygon points="1778.17,1192.79 1815.45,1198.36 1825.08,1183.16 1788.52,1177.82" fill="#b5511a" stroke="#b5511a" stroke-width="0.7"/>
<polygon points="1599.59,1212.3 1614.07,1196.57 1614.04,1193.61 1599.54,1209.29" fill="#e2001a" stroke="#e2001a" stroke-width="0.7"/>
<polygon points="1563.43,1206.53 1599.59,1212.3 1599.54,1209.29 1563.36,1203.54" fill="#a71816" stroke="#a71816" stroke-width="0.7"/>
<polygon points="1563.36,1203.54 1599.54,1209.29 1614.04,1193.61 1578.53,1188.11" fill="#c9151a" stroke="#c9151a" stroke-width="0.7"/>
<polygon points="1789.31,1242.57 1800.08,1225.51 1800.18,1222.46 1789.41,1239.45" fill="#e8680a" stroke="#e8680a" stroke-width="0.7"/>
<polygon points="1750.12,1236.32 1789.31,1242.57 1789.41,1239.45 1750.19,1233.22" fill="#953e14" stroke="#953e14" stroke-width="0.7"/>
<polygon points="1750.19,1233.22 1789.41,1239.45 1800.18,1222.46 1761.76,1216.5" fill="#b5511a" stroke="#b5511a" stroke-width="0.7"/>
<polygon points="1692.53,1227.13 1705.23,1210.75 1708.2,944.11 1694.72,955.1" fill="#009f3e" stroke="#009f3e" stroke-width="0.7"/>
<polygon points="1654.91,1221.13 1692.53,1227.13 1694.72,955.1 1654.61,951.03" fill="#006a33" stroke="#006a33" stroke-width="0.7"/>
<polygon points="1654.61,951.03 1694.72,955.1 1708.2,944.11 1668.92,940.22" fill="#007e38" stroke="#007e38" stroke-width="0.7"/>
<text x="1421.88" y="1210.87" font-size="29.5" text-anchor="end">0</text>
<text x="1419.18" y="1160.76" font-size="29.5" text-anchor="end">0.2</text>
<text x="1416.41" y="1109.42" font-size="29.5" text-anchor="end">0.4</text>
<text x="1413.58" y="1056.81" font-size="29.5" text-anchor="end">0.6</text>
<text x="1410.68" y="1002.87" font-size="29.5" text-anchor="end">0.8</text>
<text x="1407.7" y="947.57" font-size="29.5" text-anchor="end">1</text>
<text transform="translate(1476 1246.7) scale(1 1.03)" font-size="29.5" text-anchor="middle">A</text>
<text transform="translate(1568.3 1263.7) scale(1 1.03)" font-size="29.5" text-anchor="middle">B</text>
<text transform="translate(1660.6 1277.2) scale(1 1.03)" font-size="29.5" text-anchor="middle">C</text>
<text transform="translate(1756 1294.3) scale(1 1.03)" font-size="29.5" text-anchor="middle">D</text>
<text transform="translate(1842.2 1252.8) scale(1 1.06)" font-size="29.8">Out<tspan font-size="20" dx="0.3" dy="8.5">1</tspan></text>
<text transform="translate(1865.9 1213.2) scale(1 1.06)" font-size="29.8">Out<tspan font-size="20" dx="0.3" dy="8.5">2</tspan></text>
<text transform="translate(1886.8 1174.3) scale(1 1.06)" font-size="29.8">Out<tspan font-size="20" dx="0.3" dy="8.5">3</tspan></text>
<text transform="translate(1909.2 1140.4) scale(1 1.06)" font-size="29.8">Out<tspan font-size="20" dx="0.3" dy="8.5">4</tspan></text>
<rect x="1929.2" y="856.4" width="18.3" height="16.5" fill="#283593"/>
<text x="1962.38" y="871.7" font-size="24.5">A</text>
<rect x="1929.2" y="914.5" width="18.3" height="16.5" fill="#e2001a"/>
<text x="1960.54" y="929.8" font-size="24.5">B</text>
<rect x="1929.2" y="970" width="18.3" height="16.5" fill="#00a040"/>
<text x="1961.28" y="985.3" font-size="24.5">C</text>
<rect x="1929.2" y="1026.3" width="18.3" height="16.5" fill="#e8680a"/>
<text x="1960.54" y="1041.6" font-size="24.5">D</text>
<text transform="translate(1612 836.3) scale(1.04 1)" font-size="29">C, B, A, D</text>
<text x="1367.1" y="826.5" font-size="42" font-weight="bold" fill="#111">f</text>
<text transform="translate(1696.2 1352.7) scale(1.03 1)" font-size="29" text-anchor="middle">0</text>
<text transform="translate(1744.7 1352.7) scale(1.03 1)" font-size="29" text-anchor="middle">0</text>
<text transform="translate(1794.3 1352.7) scale(1.03 1)" font-size="29" text-anchor="middle">1</text>
<text transform="translate(1842.2 1352.7) scale(1.03 1)" font-size="29" text-anchor="middle">0</text>
<text transform="translate(1696.2 1405.7) scale(1.03 1)" font-size="29" text-anchor="middle">0</text>
<text transform="translate(1744.7 1405.7) scale(1.03 1)" font-size="29" text-anchor="middle">1</text>
<text transform="translate(1794.3 1405.7) scale(1.03 1)" font-size="29" text-anchor="middle">0</text>
<text transform="translate(1842.2 1405.7) scale(1.03 1)" font-size="29" text-anchor="middle">0</text>
<text transform="translate(1696.2 1456.8) scale(1.03 1)" font-size="29" text-anchor="middle">1</text>
<text transform="translate(1744.7 1456.8) scale(1.03 1)" font-size="29" text-anchor="middle">0</text>
<text transform="translate(1794.3 1456.8) scale(1.03 1)" font-size="29" text-anchor="middle">0</text>
<text transform="translate(1842.2 1456.8) scale(1.03 1)" font-size="29" text-anchor="middle">0</text>
<text transform="translate(1696.2 1509.9) scale(1.03 1)" font-size="29" text-anchor="middle">0</text>
<text transform="translate(1744.7 1509.9) scale(1.03 1)" font-size="29" text-anchor="middle">0</text>
<text transform="translate(1794.3 1509.9) scale(1.03 1)" font-size="29" text-anchor="middle">0</text>
<text transform="translate(1842.2 1509.9) scale(1.03 1)" font-size="29" text-anchor="middle">1</text>
<text transform="translate(1668.36 1360.94) scale(1 1.54)" font-size="24" font-family="'DejaVu Sans', sans-serif" fill="#222">⎛</text>
<text transform="translate(1668.36 1458.24) scale(1 4.04)" font-size="24" font-family="'DejaVu Sans', sans-serif" fill="#222">⎜</text>
<text transform="translate(1668.36 1514.63) scale(1 1.54)" font-size="24" font-family="'DejaVu Sans', sans-serif" fill="#222">⎝</text>
<text transform="translate(1856.84 1360.94) scale(1 1.54)" font-size="24" font-family="'DejaVu Sans', sans-serif" fill="#222">⎞</text>
<text transform="translate(1856.84 1458.24) scale(1 4.04)" font-size="24" font-family="'DejaVu Sans', sans-serif" fill="#222">⎟</text>
<text transform="translate(1856.84 1514.63) scale(1 1.54)" font-size="24" font-family="'DejaVu Sans', sans-serif" fill="#222">⎠</text>
<text transform="translate(1507.15 1434.63) scale(0.9 1.39)" font-size="29">|</text>
<text x="1516.54" y="1436" font-size="30.5" font-style="italic">H</text>
<text x="1537.87" y="1445.1" font-size="21.2">mesh</text>
<text x="1590.88" y="1436" font-size="30.5" font-style="italic">H</text>
<text transform="translate(1612.55 1434.63) scale(0.9 1.39)" font-size="29">|</text>
<text transform="translate(1619.3 1416) scale(1.1 1)" font-size="20">2</text>
<text transform="translate(1644.33 1434.34) scale(1.08 0.84)" font-size="29">=</text>
</svg>
</body></html>
